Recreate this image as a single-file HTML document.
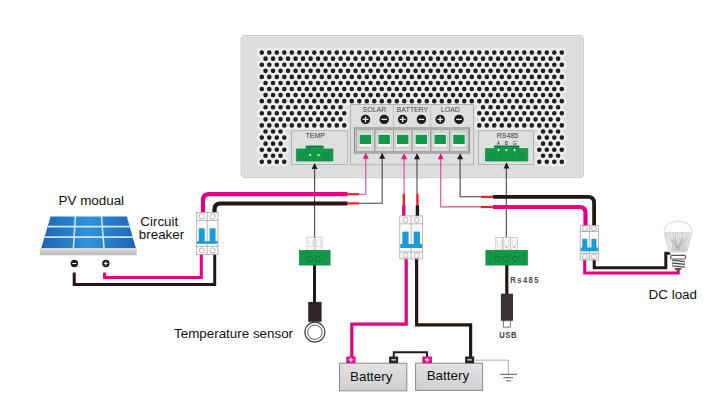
<!DOCTYPE html>
<html><head><meta charset="utf-8"><style>
html,body{margin:0;padding:0;background:#fff;width:725px;height:416px;overflow:hidden}
svg{display:block;font-family:"Liberation Sans", sans-serif}
</style></head><body>
<svg width="725" height="416" viewBox="0 0 725 416">
<rect x="241.2" y="35.5" width="342.09999999999997" height="142.2" rx="3.5" fill="#dcdddd" stroke="#c6c7c7" stroke-width="1"/>
<rect x="242.2" y="36.5" width="340.09999999999997" height="140.2" rx="2.5" fill="none" stroke="#e4e5e5" stroke-width="1"/>
<path d="M245.89999999999998 39.0V174.2M577.5 39.0V174.2" stroke="#e2e3e3" stroke-width="1.3"/>
<path d="M256.8 52.6a5.0 5.0 0 1 0 10.0 0a5.0 5.0 0 1 0 -10.0 0M264.3 52.6a5.0 5.0 0 1 0 10.0 0a5.0 5.0 0 1 0 -10.0 0M271.8 52.6a5.0 5.0 0 1 0 10.0 0a5.0 5.0 0 1 0 -10.0 0M279.3 52.6a5.0 5.0 0 1 0 10.0 0a5.0 5.0 0 1 0 -10.0 0M286.8 52.6a5.0 5.0 0 1 0 10.0 0a5.0 5.0 0 1 0 -10.0 0M294.3 52.6a5.0 5.0 0 1 0 10.0 0a5.0 5.0 0 1 0 -10.0 0M301.8 52.6a5.0 5.0 0 1 0 10.0 0a5.0 5.0 0 1 0 -10.0 0M309.3 52.6a5.0 5.0 0 1 0 10.0 0a5.0 5.0 0 1 0 -10.0 0M316.8 52.6a5.0 5.0 0 1 0 10.0 0a5.0 5.0 0 1 0 -10.0 0M324.3 52.6a5.0 5.0 0 1 0 10.0 0a5.0 5.0 0 1 0 -10.0 0M331.8 52.6a5.0 5.0 0 1 0 10.0 0a5.0 5.0 0 1 0 -10.0 0M339.3 52.6a5.0 5.0 0 1 0 10.0 0a5.0 5.0 0 1 0 -10.0 0M346.8 52.6a5.0 5.0 0 1 0 10.0 0a5.0 5.0 0 1 0 -10.0 0M354.3 52.6a5.0 5.0 0 1 0 10.0 0a5.0 5.0 0 1 0 -10.0 0M361.8 52.6a5.0 5.0 0 1 0 10.0 0a5.0 5.0 0 1 0 -10.0 0M369.3 52.6a5.0 5.0 0 1 0 10.0 0a5.0 5.0 0 1 0 -10.0 0M376.8 52.6a5.0 5.0 0 1 0 10.0 0a5.0 5.0 0 1 0 -10.0 0M384.3 52.6a5.0 5.0 0 1 0 10.0 0a5.0 5.0 0 1 0 -10.0 0M391.8 52.6a5.0 5.0 0 1 0 10.0 0a5.0 5.0 0 1 0 -10.0 0M399.3 52.6a5.0 5.0 0 1 0 10.0 0a5.0 5.0 0 1 0 -10.0 0M406.8 52.6a5.0 5.0 0 1 0 10.0 0a5.0 5.0 0 1 0 -10.0 0M414.3 52.6a5.0 5.0 0 1 0 10.0 0a5.0 5.0 0 1 0 -10.0 0M421.8 52.6a5.0 5.0 0 1 0 10.0 0a5.0 5.0 0 1 0 -10.0 0M429.3 52.6a5.0 5.0 0 1 0 10.0 0a5.0 5.0 0 1 0 -10.0 0M436.8 52.6a5.0 5.0 0 1 0 10.0 0a5.0 5.0 0 1 0 -10.0 0M444.3 52.6a5.0 5.0 0 1 0 10.0 0a5.0 5.0 0 1 0 -10.0 0M451.8 52.6a5.0 5.0 0 1 0 10.0 0a5.0 5.0 0 1 0 -10.0 0M459.3 52.6a5.0 5.0 0 1 0 10.0 0a5.0 5.0 0 1 0 -10.0 0M466.8 52.6a5.0 5.0 0 1 0 10.0 0a5.0 5.0 0 1 0 -10.0 0M474.3 52.6a5.0 5.0 0 1 0 10.0 0a5.0 5.0 0 1 0 -10.0 0M481.8 52.6a5.0 5.0 0 1 0 10.0 0a5.0 5.0 0 1 0 -10.0 0M489.3 52.6a5.0 5.0 0 1 0 10.0 0a5.0 5.0 0 1 0 -10.0 0M496.8 52.6a5.0 5.0 0 1 0 10.0 0a5.0 5.0 0 1 0 -10.0 0M504.3 52.6a5.0 5.0 0 1 0 10.0 0a5.0 5.0 0 1 0 -10.0 0M511.8 52.6a5.0 5.0 0 1 0 10.0 0a5.0 5.0 0 1 0 -10.0 0M519.3 52.6a5.0 5.0 0 1 0 10.0 0a5.0 5.0 0 1 0 -10.0 0M526.8 52.6a5.0 5.0 0 1 0 10.0 0a5.0 5.0 0 1 0 -10.0 0M534.3 52.6a5.0 5.0 0 1 0 10.0 0a5.0 5.0 0 1 0 -10.0 0M541.8 52.6a5.0 5.0 0 1 0 10.0 0a5.0 5.0 0 1 0 -10.0 0M549.3 52.6a5.0 5.0 0 1 0 10.0 0a5.0 5.0 0 1 0 -10.0 0M556.8 52.6a5.0 5.0 0 1 0 10.0 0a5.0 5.0 0 1 0 -10.0 0M260.55 58.67a5.0 5.0 0 1 0 10.0 0a5.0 5.0 0 1 0 -10.0 0M268.05 58.67a5.0 5.0 0 1 0 10.0 0a5.0 5.0 0 1 0 -10.0 0M275.55 58.67a5.0 5.0 0 1 0 10.0 0a5.0 5.0 0 1 0 -10.0 0M283.05 58.67a5.0 5.0 0 1 0 10.0 0a5.0 5.0 0 1 0 -10.0 0M290.55 58.67a5.0 5.0 0 1 0 10.0 0a5.0 5.0 0 1 0 -10.0 0M298.05 58.67a5.0 5.0 0 1 0 10.0 0a5.0 5.0 0 1 0 -10.0 0M305.55 58.67a5.0 5.0 0 1 0 10.0 0a5.0 5.0 0 1 0 -10.0 0M313.05 58.67a5.0 5.0 0 1 0 10.0 0a5.0 5.0 0 1 0 -10.0 0M320.55 58.67a5.0 5.0 0 1 0 10.0 0a5.0 5.0 0 1 0 -10.0 0M328.05 58.67a5.0 5.0 0 1 0 10.0 0a5.0 5.0 0 1 0 -10.0 0M335.55 58.67a5.0 5.0 0 1 0 10.0 0a5.0 5.0 0 1 0 -10.0 0M343.05 58.67a5.0 5.0 0 1 0 10.0 0a5.0 5.0 0 1 0 -10.0 0M350.55 58.67a5.0 5.0 0 1 0 10.0 0a5.0 5.0 0 1 0 -10.0 0M358.05 58.67a5.0 5.0 0 1 0 10.0 0a5.0 5.0 0 1 0 -10.0 0M365.55 58.67a5.0 5.0 0 1 0 10.0 0a5.0 5.0 0 1 0 -10.0 0M373.05 58.67a5.0 5.0 0 1 0 10.0 0a5.0 5.0 0 1 0 -10.0 0M380.55 58.67a5.0 5.0 0 1 0 10.0 0a5.0 5.0 0 1 0 -10.0 0M388.05 58.67a5.0 5.0 0 1 0 10.0 0a5.0 5.0 0 1 0 -10.0 0M395.55 58.67a5.0 5.0 0 1 0 10.0 0a5.0 5.0 0 1 0 -10.0 0M403.05 58.67a5.0 5.0 0 1 0 10.0 0a5.0 5.0 0 1 0 -10.0 0M410.55 58.67a5.0 5.0 0 1 0 10.0 0a5.0 5.0 0 1 0 -10.0 0M418.05 58.67a5.0 5.0 0 1 0 10.0 0a5.0 5.0 0 1 0 -10.0 0M425.55 58.67a5.0 5.0 0 1 0 10.0 0a5.0 5.0 0 1 0 -10.0 0M433.05 58.67a5.0 5.0 0 1 0 10.0 0a5.0 5.0 0 1 0 -10.0 0M440.55 58.67a5.0 5.0 0 1 0 10.0 0a5.0 5.0 0 1 0 -10.0 0M448.05 58.67a5.0 5.0 0 1 0 10.0 0a5.0 5.0 0 1 0 -10.0 0M455.55 58.67a5.0 5.0 0 1 0 10.0 0a5.0 5.0 0 1 0 -10.0 0M463.05 58.67a5.0 5.0 0 1 0 10.0 0a5.0 5.0 0 1 0 -10.0 0M470.55 58.67a5.0 5.0 0 1 0 10.0 0a5.0 5.0 0 1 0 -10.0 0M478.05 58.67a5.0 5.0 0 1 0 10.0 0a5.0 5.0 0 1 0 -10.0 0M485.55 58.67a5.0 5.0 0 1 0 10.0 0a5.0 5.0 0 1 0 -10.0 0M493.05 58.67a5.0 5.0 0 1 0 10.0 0a5.0 5.0 0 1 0 -10.0 0M500.55 58.67a5.0 5.0 0 1 0 10.0 0a5.0 5.0 0 1 0 -10.0 0M508.05 58.67a5.0 5.0 0 1 0 10.0 0a5.0 5.0 0 1 0 -10.0 0M515.55 58.67a5.0 5.0 0 1 0 10.0 0a5.0 5.0 0 1 0 -10.0 0M523.05 58.67a5.0 5.0 0 1 0 10.0 0a5.0 5.0 0 1 0 -10.0 0M530.55 58.67a5.0 5.0 0 1 0 10.0 0a5.0 5.0 0 1 0 -10.0 0M538.05 58.67a5.0 5.0 0 1 0 10.0 0a5.0 5.0 0 1 0 -10.0 0M545.55 58.67a5.0 5.0 0 1 0 10.0 0a5.0 5.0 0 1 0 -10.0 0M553.05 58.67a5.0 5.0 0 1 0 10.0 0a5.0 5.0 0 1 0 -10.0 0M256.8 64.74a5.0 5.0 0 1 0 10.0 0a5.0 5.0 0 1 0 -10.0 0M264.3 64.74a5.0 5.0 0 1 0 10.0 0a5.0 5.0 0 1 0 -10.0 0M271.8 64.74a5.0 5.0 0 1 0 10.0 0a5.0 5.0 0 1 0 -10.0 0M279.3 64.74a5.0 5.0 0 1 0 10.0 0a5.0 5.0 0 1 0 -10.0 0M286.8 64.74a5.0 5.0 0 1 0 10.0 0a5.0 5.0 0 1 0 -10.0 0M294.3 64.74a5.0 5.0 0 1 0 10.0 0a5.0 5.0 0 1 0 -10.0 0M301.8 64.74a5.0 5.0 0 1 0 10.0 0a5.0 5.0 0 1 0 -10.0 0M309.3 64.74a5.0 5.0 0 1 0 10.0 0a5.0 5.0 0 1 0 -10.0 0M316.8 64.74a5.0 5.0 0 1 0 10.0 0a5.0 5.0 0 1 0 -10.0 0M324.3 64.74a5.0 5.0 0 1 0 10.0 0a5.0 5.0 0 1 0 -10.0 0M331.8 64.74a5.0 5.0 0 1 0 10.0 0a5.0 5.0 0 1 0 -10.0 0M339.3 64.74a5.0 5.0 0 1 0 10.0 0a5.0 5.0 0 1 0 -10.0 0M346.8 64.74a5.0 5.0 0 1 0 10.0 0a5.0 5.0 0 1 0 -10.0 0M354.3 64.74a5.0 5.0 0 1 0 10.0 0a5.0 5.0 0 1 0 -10.0 0M361.8 64.74a5.0 5.0 0 1 0 10.0 0a5.0 5.0 0 1 0 -10.0 0M369.3 64.74a5.0 5.0 0 1 0 10.0 0a5.0 5.0 0 1 0 -10.0 0M376.8 64.74a5.0 5.0 0 1 0 10.0 0a5.0 5.0 0 1 0 -10.0 0M384.3 64.74a5.0 5.0 0 1 0 10.0 0a5.0 5.0 0 1 0 -10.0 0M391.8 64.74a5.0 5.0 0 1 0 10.0 0a5.0 5.0 0 1 0 -10.0 0M399.3 64.74a5.0 5.0 0 1 0 10.0 0a5.0 5.0 0 1 0 -10.0 0M406.8 64.74a5.0 5.0 0 1 0 10.0 0a5.0 5.0 0 1 0 -10.0 0M414.3 64.74a5.0 5.0 0 1 0 10.0 0a5.0 5.0 0 1 0 -10.0 0M421.8 64.74a5.0 5.0 0 1 0 10.0 0a5.0 5.0 0 1 0 -10.0 0M429.3 64.74a5.0 5.0 0 1 0 10.0 0a5.0 5.0 0 1 0 -10.0 0M436.8 64.74a5.0 5.0 0 1 0 10.0 0a5.0 5.0 0 1 0 -10.0 0M444.3 64.74a5.0 5.0 0 1 0 10.0 0a5.0 5.0 0 1 0 -10.0 0M451.8 64.74a5.0 5.0 0 1 0 10.0 0a5.0 5.0 0 1 0 -10.0 0M459.3 64.74a5.0 5.0 0 1 0 10.0 0a5.0 5.0 0 1 0 -10.0 0M466.8 64.74a5.0 5.0 0 1 0 10.0 0a5.0 5.0 0 1 0 -10.0 0M474.3 64.74a5.0 5.0 0 1 0 10.0 0a5.0 5.0 0 1 0 -10.0 0M481.8 64.74a5.0 5.0 0 1 0 10.0 0a5.0 5.0 0 1 0 -10.0 0M489.3 64.74a5.0 5.0 0 1 0 10.0 0a5.0 5.0 0 1 0 -10.0 0M496.8 64.74a5.0 5.0 0 1 0 10.0 0a5.0 5.0 0 1 0 -10.0 0M504.3 64.74a5.0 5.0 0 1 0 10.0 0a5.0 5.0 0 1 0 -10.0 0M511.8 64.74a5.0 5.0 0 1 0 10.0 0a5.0 5.0 0 1 0 -10.0 0M519.3 64.74a5.0 5.0 0 1 0 10.0 0a5.0 5.0 0 1 0 -10.0 0M526.8 64.74a5.0 5.0 0 1 0 10.0 0a5.0 5.0 0 1 0 -10.0 0M534.3 64.74a5.0 5.0 0 1 0 10.0 0a5.0 5.0 0 1 0 -10.0 0M541.8 64.74a5.0 5.0 0 1 0 10.0 0a5.0 5.0 0 1 0 -10.0 0M549.3 64.74a5.0 5.0 0 1 0 10.0 0a5.0 5.0 0 1 0 -10.0 0M556.8 64.74a5.0 5.0 0 1 0 10.0 0a5.0 5.0 0 1 0 -10.0 0M260.55 70.81a5.0 5.0 0 1 0 10.0 0a5.0 5.0 0 1 0 -10.0 0M268.05 70.81a5.0 5.0 0 1 0 10.0 0a5.0 5.0 0 1 0 -10.0 0M275.55 70.81a5.0 5.0 0 1 0 10.0 0a5.0 5.0 0 1 0 -10.0 0M283.05 70.81a5.0 5.0 0 1 0 10.0 0a5.0 5.0 0 1 0 -10.0 0M290.55 70.81a5.0 5.0 0 1 0 10.0 0a5.0 5.0 0 1 0 -10.0 0M298.05 70.81a5.0 5.0 0 1 0 10.0 0a5.0 5.0 0 1 0 -10.0 0M305.55 70.81a5.0 5.0 0 1 0 10.0 0a5.0 5.0 0 1 0 -10.0 0M313.05 70.81a5.0 5.0 0 1 0 10.0 0a5.0 5.0 0 1 0 -10.0 0M320.55 70.81a5.0 5.0 0 1 0 10.0 0a5.0 5.0 0 1 0 -10.0 0M328.05 70.81a5.0 5.0 0 1 0 10.0 0a5.0 5.0 0 1 0 -10.0 0M335.55 70.81a5.0 5.0 0 1 0 10.0 0a5.0 5.0 0 1 0 -10.0 0M343.05 70.81a5.0 5.0 0 1 0 10.0 0a5.0 5.0 0 1 0 -10.0 0M350.55 70.81a5.0 5.0 0 1 0 10.0 0a5.0 5.0 0 1 0 -10.0 0M358.05 70.81a5.0 5.0 0 1 0 10.0 0a5.0 5.0 0 1 0 -10.0 0M365.55 70.81a5.0 5.0 0 1 0 10.0 0a5.0 5.0 0 1 0 -10.0 0M373.05 70.81a5.0 5.0 0 1 0 10.0 0a5.0 5.0 0 1 0 -10.0 0M380.55 70.81a5.0 5.0 0 1 0 10.0 0a5.0 5.0 0 1 0 -10.0 0M388.05 70.81a5.0 5.0 0 1 0 10.0 0a5.0 5.0 0 1 0 -10.0 0M395.55 70.81a5.0 5.0 0 1 0 10.0 0a5.0 5.0 0 1 0 -10.0 0M403.05 70.81a5.0 5.0 0 1 0 10.0 0a5.0 5.0 0 1 0 -10.0 0M410.55 70.81a5.0 5.0 0 1 0 10.0 0a5.0 5.0 0 1 0 -10.0 0M418.05 70.81a5.0 5.0 0 1 0 10.0 0a5.0 5.0 0 1 0 -10.0 0M425.55 70.81a5.0 5.0 0 1 0 10.0 0a5.0 5.0 0 1 0 -10.0 0M433.05 70.81a5.0 5.0 0 1 0 10.0 0a5.0 5.0 0 1 0 -10.0 0M440.55 70.81a5.0 5.0 0 1 0 10.0 0a5.0 5.0 0 1 0 -10.0 0M448.05 70.81a5.0 5.0 0 1 0 10.0 0a5.0 5.0 0 1 0 -10.0 0M455.55 70.81a5.0 5.0 0 1 0 10.0 0a5.0 5.0 0 1 0 -10.0 0M463.05 70.81a5.0 5.0 0 1 0 10.0 0a5.0 5.0 0 1 0 -10.0 0M470.55 70.81a5.0 5.0 0 1 0 10.0 0a5.0 5.0 0 1 0 -10.0 0M478.05 70.81a5.0 5.0 0 1 0 10.0 0a5.0 5.0 0 1 0 -10.0 0M485.55 70.81a5.0 5.0 0 1 0 10.0 0a5.0 5.0 0 1 0 -10.0 0M493.05 70.81a5.0 5.0 0 1 0 10.0 0a5.0 5.0 0 1 0 -10.0 0M500.55 70.81a5.0 5.0 0 1 0 10.0 0a5.0 5.0 0 1 0 -10.0 0M508.05 70.81a5.0 5.0 0 1 0 10.0 0a5.0 5.0 0 1 0 -10.0 0M515.55 70.81a5.0 5.0 0 1 0 10.0 0a5.0 5.0 0 1 0 -10.0 0M523.05 70.81a5.0 5.0 0 1 0 10.0 0a5.0 5.0 0 1 0 -10.0 0M530.55 70.81a5.0 5.0 0 1 0 10.0 0a5.0 5.0 0 1 0 -10.0 0M538.05 70.81a5.0 5.0 0 1 0 10.0 0a5.0 5.0 0 1 0 -10.0 0M545.55 70.81a5.0 5.0 0 1 0 10.0 0a5.0 5.0 0 1 0 -10.0 0M553.05 70.81a5.0 5.0 0 1 0 10.0 0a5.0 5.0 0 1 0 -10.0 0M256.8 76.88a5.0 5.0 0 1 0 10.0 0a5.0 5.0 0 1 0 -10.0 0M264.3 76.88a5.0 5.0 0 1 0 10.0 0a5.0 5.0 0 1 0 -10.0 0M271.8 76.88a5.0 5.0 0 1 0 10.0 0a5.0 5.0 0 1 0 -10.0 0M279.3 76.88a5.0 5.0 0 1 0 10.0 0a5.0 5.0 0 1 0 -10.0 0M286.8 76.88a5.0 5.0 0 1 0 10.0 0a5.0 5.0 0 1 0 -10.0 0M294.3 76.88a5.0 5.0 0 1 0 10.0 0a5.0 5.0 0 1 0 -10.0 0M301.8 76.88a5.0 5.0 0 1 0 10.0 0a5.0 5.0 0 1 0 -10.0 0M309.3 76.88a5.0 5.0 0 1 0 10.0 0a5.0 5.0 0 1 0 -10.0 0M316.8 76.88a5.0 5.0 0 1 0 10.0 0a5.0 5.0 0 1 0 -10.0 0M324.3 76.88a5.0 5.0 0 1 0 10.0 0a5.0 5.0 0 1 0 -10.0 0M331.8 76.88a5.0 5.0 0 1 0 10.0 0a5.0 5.0 0 1 0 -10.0 0M339.3 76.88a5.0 5.0 0 1 0 10.0 0a5.0 5.0 0 1 0 -10.0 0M346.8 76.88a5.0 5.0 0 1 0 10.0 0a5.0 5.0 0 1 0 -10.0 0M354.3 76.88a5.0 5.0 0 1 0 10.0 0a5.0 5.0 0 1 0 -10.0 0M361.8 76.88a5.0 5.0 0 1 0 10.0 0a5.0 5.0 0 1 0 -10.0 0M369.3 76.88a5.0 5.0 0 1 0 10.0 0a5.0 5.0 0 1 0 -10.0 0M376.8 76.88a5.0 5.0 0 1 0 10.0 0a5.0 5.0 0 1 0 -10.0 0M384.3 76.88a5.0 5.0 0 1 0 10.0 0a5.0 5.0 0 1 0 -10.0 0M391.8 76.88a5.0 5.0 0 1 0 10.0 0a5.0 5.0 0 1 0 -10.0 0M399.3 76.88a5.0 5.0 0 1 0 10.0 0a5.0 5.0 0 1 0 -10.0 0M406.8 76.88a5.0 5.0 0 1 0 10.0 0a5.0 5.0 0 1 0 -10.0 0M414.3 76.88a5.0 5.0 0 1 0 10.0 0a5.0 5.0 0 1 0 -10.0 0M421.8 76.88a5.0 5.0 0 1 0 10.0 0a5.0 5.0 0 1 0 -10.0 0M429.3 76.88a5.0 5.0 0 1 0 10.0 0a5.0 5.0 0 1 0 -10.0 0M436.8 76.88a5.0 5.0 0 1 0 10.0 0a5.0 5.0 0 1 0 -10.0 0M444.3 76.88a5.0 5.0 0 1 0 10.0 0a5.0 5.0 0 1 0 -10.0 0M451.8 76.88a5.0 5.0 0 1 0 10.0 0a5.0 5.0 0 1 0 -10.0 0M459.3 76.88a5.0 5.0 0 1 0 10.0 0a5.0 5.0 0 1 0 -10.0 0M466.8 76.88a5.0 5.0 0 1 0 10.0 0a5.0 5.0 0 1 0 -10.0 0M474.3 76.88a5.0 5.0 0 1 0 10.0 0a5.0 5.0 0 1 0 -10.0 0M481.8 76.88a5.0 5.0 0 1 0 10.0 0a5.0 5.0 0 1 0 -10.0 0M489.3 76.88a5.0 5.0 0 1 0 10.0 0a5.0 5.0 0 1 0 -10.0 0M496.8 76.88a5.0 5.0 0 1 0 10.0 0a5.0 5.0 0 1 0 -10.0 0M504.3 76.88a5.0 5.0 0 1 0 10.0 0a5.0 5.0 0 1 0 -10.0 0M511.8 76.88a5.0 5.0 0 1 0 10.0 0a5.0 5.0 0 1 0 -10.0 0M519.3 76.88a5.0 5.0 0 1 0 10.0 0a5.0 5.0 0 1 0 -10.0 0M526.8 76.88a5.0 5.0 0 1 0 10.0 0a5.0 5.0 0 1 0 -10.0 0M534.3 76.88a5.0 5.0 0 1 0 10.0 0a5.0 5.0 0 1 0 -10.0 0M541.8 76.88a5.0 5.0 0 1 0 10.0 0a5.0 5.0 0 1 0 -10.0 0M549.3 76.88a5.0 5.0 0 1 0 10.0 0a5.0 5.0 0 1 0 -10.0 0M556.8 76.88a5.0 5.0 0 1 0 10.0 0a5.0 5.0 0 1 0 -10.0 0M260.55 82.95a5.0 5.0 0 1 0 10.0 0a5.0 5.0 0 1 0 -10.0 0M268.05 82.95a5.0 5.0 0 1 0 10.0 0a5.0 5.0 0 1 0 -10.0 0M275.55 82.95a5.0 5.0 0 1 0 10.0 0a5.0 5.0 0 1 0 -10.0 0M283.05 82.95a5.0 5.0 0 1 0 10.0 0a5.0 5.0 0 1 0 -10.0 0M290.55 82.95a5.0 5.0 0 1 0 10.0 0a5.0 5.0 0 1 0 -10.0 0M298.05 82.95a5.0 5.0 0 1 0 10.0 0a5.0 5.0 0 1 0 -10.0 0M305.55 82.95a5.0 5.0 0 1 0 10.0 0a5.0 5.0 0 1 0 -10.0 0M313.05 82.95a5.0 5.0 0 1 0 10.0 0a5.0 5.0 0 1 0 -10.0 0M320.55 82.95a5.0 5.0 0 1 0 10.0 0a5.0 5.0 0 1 0 -10.0 0M328.05 82.95a5.0 5.0 0 1 0 10.0 0a5.0 5.0 0 1 0 -10.0 0M335.55 82.95a5.0 5.0 0 1 0 10.0 0a5.0 5.0 0 1 0 -10.0 0M343.05 82.95a5.0 5.0 0 1 0 10.0 0a5.0 5.0 0 1 0 -10.0 0M350.55 82.95a5.0 5.0 0 1 0 10.0 0a5.0 5.0 0 1 0 -10.0 0M358.05 82.95a5.0 5.0 0 1 0 10.0 0a5.0 5.0 0 1 0 -10.0 0M365.55 82.95a5.0 5.0 0 1 0 10.0 0a5.0 5.0 0 1 0 -10.0 0M373.05 82.95a5.0 5.0 0 1 0 10.0 0a5.0 5.0 0 1 0 -10.0 0M380.55 82.95a5.0 5.0 0 1 0 10.0 0a5.0 5.0 0 1 0 -10.0 0M388.05 82.95a5.0 5.0 0 1 0 10.0 0a5.0 5.0 0 1 0 -10.0 0M395.55 82.95a5.0 5.0 0 1 0 10.0 0a5.0 5.0 0 1 0 -10.0 0M403.05 82.95a5.0 5.0 0 1 0 10.0 0a5.0 5.0 0 1 0 -10.0 0M410.55 82.95a5.0 5.0 0 1 0 10.0 0a5.0 5.0 0 1 0 -10.0 0M418.05 82.95a5.0 5.0 0 1 0 10.0 0a5.0 5.0 0 1 0 -10.0 0M425.55 82.95a5.0 5.0 0 1 0 10.0 0a5.0 5.0 0 1 0 -10.0 0M433.05 82.95a5.0 5.0 0 1 0 10.0 0a5.0 5.0 0 1 0 -10.0 0M440.55 82.95a5.0 5.0 0 1 0 10.0 0a5.0 5.0 0 1 0 -10.0 0M448.05 82.95a5.0 5.0 0 1 0 10.0 0a5.0 5.0 0 1 0 -10.0 0M455.55 82.95a5.0 5.0 0 1 0 10.0 0a5.0 5.0 0 1 0 -10.0 0M463.05 82.95a5.0 5.0 0 1 0 10.0 0a5.0 5.0 0 1 0 -10.0 0M470.55 82.95a5.0 5.0 0 1 0 10.0 0a5.0 5.0 0 1 0 -10.0 0M478.05 82.95a5.0 5.0 0 1 0 10.0 0a5.0 5.0 0 1 0 -10.0 0M485.55 82.95a5.0 5.0 0 1 0 10.0 0a5.0 5.0 0 1 0 -10.0 0M493.05 82.95a5.0 5.0 0 1 0 10.0 0a5.0 5.0 0 1 0 -10.0 0M500.55 82.95a5.0 5.0 0 1 0 10.0 0a5.0 5.0 0 1 0 -10.0 0M508.05 82.95a5.0 5.0 0 1 0 10.0 0a5.0 5.0 0 1 0 -10.0 0M515.55 82.95a5.0 5.0 0 1 0 10.0 0a5.0 5.0 0 1 0 -10.0 0M523.05 82.95a5.0 5.0 0 1 0 10.0 0a5.0 5.0 0 1 0 -10.0 0M530.55 82.95a5.0 5.0 0 1 0 10.0 0a5.0 5.0 0 1 0 -10.0 0M538.05 82.95a5.0 5.0 0 1 0 10.0 0a5.0 5.0 0 1 0 -10.0 0M545.55 82.95a5.0 5.0 0 1 0 10.0 0a5.0 5.0 0 1 0 -10.0 0M553.05 82.95a5.0 5.0 0 1 0 10.0 0a5.0 5.0 0 1 0 -10.0 0M256.8 89.02a5.0 5.0 0 1 0 10.0 0a5.0 5.0 0 1 0 -10.0 0M264.3 89.02a5.0 5.0 0 1 0 10.0 0a5.0 5.0 0 1 0 -10.0 0M271.8 89.02a5.0 5.0 0 1 0 10.0 0a5.0 5.0 0 1 0 -10.0 0M279.3 89.02a5.0 5.0 0 1 0 10.0 0a5.0 5.0 0 1 0 -10.0 0M286.8 89.02a5.0 5.0 0 1 0 10.0 0a5.0 5.0 0 1 0 -10.0 0M294.3 89.02a5.0 5.0 0 1 0 10.0 0a5.0 5.0 0 1 0 -10.0 0M301.8 89.02a5.0 5.0 0 1 0 10.0 0a5.0 5.0 0 1 0 -10.0 0M309.3 89.02a5.0 5.0 0 1 0 10.0 0a5.0 5.0 0 1 0 -10.0 0M316.8 89.02a5.0 5.0 0 1 0 10.0 0a5.0 5.0 0 1 0 -10.0 0M324.3 89.02a5.0 5.0 0 1 0 10.0 0a5.0 5.0 0 1 0 -10.0 0M331.8 89.02a5.0 5.0 0 1 0 10.0 0a5.0 5.0 0 1 0 -10.0 0M339.3 89.02a5.0 5.0 0 1 0 10.0 0a5.0 5.0 0 1 0 -10.0 0M346.8 89.02a5.0 5.0 0 1 0 10.0 0a5.0 5.0 0 1 0 -10.0 0M354.3 89.02a5.0 5.0 0 1 0 10.0 0a5.0 5.0 0 1 0 -10.0 0M361.8 89.02a5.0 5.0 0 1 0 10.0 0a5.0 5.0 0 1 0 -10.0 0M369.3 89.02a5.0 5.0 0 1 0 10.0 0a5.0 5.0 0 1 0 -10.0 0M376.8 89.02a5.0 5.0 0 1 0 10.0 0a5.0 5.0 0 1 0 -10.0 0M384.3 89.02a5.0 5.0 0 1 0 10.0 0a5.0 5.0 0 1 0 -10.0 0M391.8 89.02a5.0 5.0 0 1 0 10.0 0a5.0 5.0 0 1 0 -10.0 0M399.3 89.02a5.0 5.0 0 1 0 10.0 0a5.0 5.0 0 1 0 -10.0 0M406.8 89.02a5.0 5.0 0 1 0 10.0 0a5.0 5.0 0 1 0 -10.0 0M414.3 89.02a5.0 5.0 0 1 0 10.0 0a5.0 5.0 0 1 0 -10.0 0M421.8 89.02a5.0 5.0 0 1 0 10.0 0a5.0 5.0 0 1 0 -10.0 0M429.3 89.02a5.0 5.0 0 1 0 10.0 0a5.0 5.0 0 1 0 -10.0 0M436.8 89.02a5.0 5.0 0 1 0 10.0 0a5.0 5.0 0 1 0 -10.0 0M444.3 89.02a5.0 5.0 0 1 0 10.0 0a5.0 5.0 0 1 0 -10.0 0M451.8 89.02a5.0 5.0 0 1 0 10.0 0a5.0 5.0 0 1 0 -10.0 0M459.3 89.02a5.0 5.0 0 1 0 10.0 0a5.0 5.0 0 1 0 -10.0 0M466.8 89.02a5.0 5.0 0 1 0 10.0 0a5.0 5.0 0 1 0 -10.0 0M474.3 89.02a5.0 5.0 0 1 0 10.0 0a5.0 5.0 0 1 0 -10.0 0M481.8 89.02a5.0 5.0 0 1 0 10.0 0a5.0 5.0 0 1 0 -10.0 0M489.3 89.02a5.0 5.0 0 1 0 10.0 0a5.0 5.0 0 1 0 -10.0 0M496.8 89.02a5.0 5.0 0 1 0 10.0 0a5.0 5.0 0 1 0 -10.0 0M504.3 89.02a5.0 5.0 0 1 0 10.0 0a5.0 5.0 0 1 0 -10.0 0M511.8 89.02a5.0 5.0 0 1 0 10.0 0a5.0 5.0 0 1 0 -10.0 0M519.3 89.02a5.0 5.0 0 1 0 10.0 0a5.0 5.0 0 1 0 -10.0 0M526.8 89.02a5.0 5.0 0 1 0 10.0 0a5.0 5.0 0 1 0 -10.0 0M534.3 89.02a5.0 5.0 0 1 0 10.0 0a5.0 5.0 0 1 0 -10.0 0M541.8 89.02a5.0 5.0 0 1 0 10.0 0a5.0 5.0 0 1 0 -10.0 0M549.3 89.02a5.0 5.0 0 1 0 10.0 0a5.0 5.0 0 1 0 -10.0 0M556.8 89.02a5.0 5.0 0 1 0 10.0 0a5.0 5.0 0 1 0 -10.0 0M260.55 95.09a5.0 5.0 0 1 0 10.0 0a5.0 5.0 0 1 0 -10.0 0M268.05 95.09a5.0 5.0 0 1 0 10.0 0a5.0 5.0 0 1 0 -10.0 0M275.55 95.09a5.0 5.0 0 1 0 10.0 0a5.0 5.0 0 1 0 -10.0 0M283.05 95.09a5.0 5.0 0 1 0 10.0 0a5.0 5.0 0 1 0 -10.0 0M290.55 95.09a5.0 5.0 0 1 0 10.0 0a5.0 5.0 0 1 0 -10.0 0M298.05 95.09a5.0 5.0 0 1 0 10.0 0a5.0 5.0 0 1 0 -10.0 0M305.55 95.09a5.0 5.0 0 1 0 10.0 0a5.0 5.0 0 1 0 -10.0 0M313.05 95.09a5.0 5.0 0 1 0 10.0 0a5.0 5.0 0 1 0 -10.0 0M320.55 95.09a5.0 5.0 0 1 0 10.0 0a5.0 5.0 0 1 0 -10.0 0M328.05 95.09a5.0 5.0 0 1 0 10.0 0a5.0 5.0 0 1 0 -10.0 0M335.55 95.09a5.0 5.0 0 1 0 10.0 0a5.0 5.0 0 1 0 -10.0 0M343.05 95.09a5.0 5.0 0 1 0 10.0 0a5.0 5.0 0 1 0 -10.0 0M350.55 95.09a5.0 5.0 0 1 0 10.0 0a5.0 5.0 0 1 0 -10.0 0M358.05 95.09a5.0 5.0 0 1 0 10.0 0a5.0 5.0 0 1 0 -10.0 0M365.55 95.09a5.0 5.0 0 1 0 10.0 0a5.0 5.0 0 1 0 -10.0 0M373.05 95.09a5.0 5.0 0 1 0 10.0 0a5.0 5.0 0 1 0 -10.0 0M380.55 95.09a5.0 5.0 0 1 0 10.0 0a5.0 5.0 0 1 0 -10.0 0M388.05 95.09a5.0 5.0 0 1 0 10.0 0a5.0 5.0 0 1 0 -10.0 0M395.55 95.09a5.0 5.0 0 1 0 10.0 0a5.0 5.0 0 1 0 -10.0 0M403.05 95.09a5.0 5.0 0 1 0 10.0 0a5.0 5.0 0 1 0 -10.0 0M410.55 95.09a5.0 5.0 0 1 0 10.0 0a5.0 5.0 0 1 0 -10.0 0M418.05 95.09a5.0 5.0 0 1 0 10.0 0a5.0 5.0 0 1 0 -10.0 0M425.55 95.09a5.0 5.0 0 1 0 10.0 0a5.0 5.0 0 1 0 -10.0 0M433.05 95.09a5.0 5.0 0 1 0 10.0 0a5.0 5.0 0 1 0 -10.0 0M440.55 95.09a5.0 5.0 0 1 0 10.0 0a5.0 5.0 0 1 0 -10.0 0M448.05 95.09a5.0 5.0 0 1 0 10.0 0a5.0 5.0 0 1 0 -10.0 0M455.55 95.09a5.0 5.0 0 1 0 10.0 0a5.0 5.0 0 1 0 -10.0 0M463.05 95.09a5.0 5.0 0 1 0 10.0 0a5.0 5.0 0 1 0 -10.0 0M470.55 95.09a5.0 5.0 0 1 0 10.0 0a5.0 5.0 0 1 0 -10.0 0M478.05 95.09a5.0 5.0 0 1 0 10.0 0a5.0 5.0 0 1 0 -10.0 0M485.55 95.09a5.0 5.0 0 1 0 10.0 0a5.0 5.0 0 1 0 -10.0 0M493.05 95.09a5.0 5.0 0 1 0 10.0 0a5.0 5.0 0 1 0 -10.0 0M500.55 95.09a5.0 5.0 0 1 0 10.0 0a5.0 5.0 0 1 0 -10.0 0M508.05 95.09a5.0 5.0 0 1 0 10.0 0a5.0 5.0 0 1 0 -10.0 0M515.55 95.09a5.0 5.0 0 1 0 10.0 0a5.0 5.0 0 1 0 -10.0 0M523.05 95.09a5.0 5.0 0 1 0 10.0 0a5.0 5.0 0 1 0 -10.0 0M530.55 95.09a5.0 5.0 0 1 0 10.0 0a5.0 5.0 0 1 0 -10.0 0M538.05 95.09a5.0 5.0 0 1 0 10.0 0a5.0 5.0 0 1 0 -10.0 0M545.55 95.09a5.0 5.0 0 1 0 10.0 0a5.0 5.0 0 1 0 -10.0 0M553.05 95.09a5.0 5.0 0 1 0 10.0 0a5.0 5.0 0 1 0 -10.0 0M256.8 101.16a5.0 5.0 0 1 0 10.0 0a5.0 5.0 0 1 0 -10.0 0M264.3 101.16a5.0 5.0 0 1 0 10.0 0a5.0 5.0 0 1 0 -10.0 0M271.8 101.16a5.0 5.0 0 1 0 10.0 0a5.0 5.0 0 1 0 -10.0 0M279.3 101.16a5.0 5.0 0 1 0 10.0 0a5.0 5.0 0 1 0 -10.0 0M286.8 101.16a5.0 5.0 0 1 0 10.0 0a5.0 5.0 0 1 0 -10.0 0M294.3 101.16a5.0 5.0 0 1 0 10.0 0a5.0 5.0 0 1 0 -10.0 0M301.8 101.16a5.0 5.0 0 1 0 10.0 0a5.0 5.0 0 1 0 -10.0 0M309.3 101.16a5.0 5.0 0 1 0 10.0 0a5.0 5.0 0 1 0 -10.0 0M316.8 101.16a5.0 5.0 0 1 0 10.0 0a5.0 5.0 0 1 0 -10.0 0M324.3 101.16a5.0 5.0 0 1 0 10.0 0a5.0 5.0 0 1 0 -10.0 0M331.8 101.16a5.0 5.0 0 1 0 10.0 0a5.0 5.0 0 1 0 -10.0 0M339.3 101.16a5.0 5.0 0 1 0 10.0 0a5.0 5.0 0 1 0 -10.0 0M346.8 101.16a5.0 5.0 0 1 0 10.0 0a5.0 5.0 0 1 0 -10.0 0M354.3 101.16a5.0 5.0 0 1 0 10.0 0a5.0 5.0 0 1 0 -10.0 0M361.8 101.16a5.0 5.0 0 1 0 10.0 0a5.0 5.0 0 1 0 -10.0 0M369.3 101.16a5.0 5.0 0 1 0 10.0 0a5.0 5.0 0 1 0 -10.0 0M376.8 101.16a5.0 5.0 0 1 0 10.0 0a5.0 5.0 0 1 0 -10.0 0M384.3 101.16a5.0 5.0 0 1 0 10.0 0a5.0 5.0 0 1 0 -10.0 0M391.8 101.16a5.0 5.0 0 1 0 10.0 0a5.0 5.0 0 1 0 -10.0 0M399.3 101.16a5.0 5.0 0 1 0 10.0 0a5.0 5.0 0 1 0 -10.0 0M406.8 101.16a5.0 5.0 0 1 0 10.0 0a5.0 5.0 0 1 0 -10.0 0M414.3 101.16a5.0 5.0 0 1 0 10.0 0a5.0 5.0 0 1 0 -10.0 0M421.8 101.16a5.0 5.0 0 1 0 10.0 0a5.0 5.0 0 1 0 -10.0 0M429.3 101.16a5.0 5.0 0 1 0 10.0 0a5.0 5.0 0 1 0 -10.0 0M436.8 101.16a5.0 5.0 0 1 0 10.0 0a5.0 5.0 0 1 0 -10.0 0M444.3 101.16a5.0 5.0 0 1 0 10.0 0a5.0 5.0 0 1 0 -10.0 0M451.8 101.16a5.0 5.0 0 1 0 10.0 0a5.0 5.0 0 1 0 -10.0 0M459.3 101.16a5.0 5.0 0 1 0 10.0 0a5.0 5.0 0 1 0 -10.0 0M466.8 101.16a5.0 5.0 0 1 0 10.0 0a5.0 5.0 0 1 0 -10.0 0M474.3 101.16a5.0 5.0 0 1 0 10.0 0a5.0 5.0 0 1 0 -10.0 0M481.8 101.16a5.0 5.0 0 1 0 10.0 0a5.0 5.0 0 1 0 -10.0 0M489.3 101.16a5.0 5.0 0 1 0 10.0 0a5.0 5.0 0 1 0 -10.0 0M496.8 101.16a5.0 5.0 0 1 0 10.0 0a5.0 5.0 0 1 0 -10.0 0M504.3 101.16a5.0 5.0 0 1 0 10.0 0a5.0 5.0 0 1 0 -10.0 0M511.8 101.16a5.0 5.0 0 1 0 10.0 0a5.0 5.0 0 1 0 -10.0 0M519.3 101.16a5.0 5.0 0 1 0 10.0 0a5.0 5.0 0 1 0 -10.0 0M526.8 101.16a5.0 5.0 0 1 0 10.0 0a5.0 5.0 0 1 0 -10.0 0M534.3 101.16a5.0 5.0 0 1 0 10.0 0a5.0 5.0 0 1 0 -10.0 0M541.8 101.16a5.0 5.0 0 1 0 10.0 0a5.0 5.0 0 1 0 -10.0 0M549.3 101.16a5.0 5.0 0 1 0 10.0 0a5.0 5.0 0 1 0 -10.0 0M556.8 101.16a5.0 5.0 0 1 0 10.0 0a5.0 5.0 0 1 0 -10.0 0M260.55 107.23a5.0 5.0 0 1 0 10.0 0a5.0 5.0 0 1 0 -10.0 0M268.05 107.23a5.0 5.0 0 1 0 10.0 0a5.0 5.0 0 1 0 -10.0 0M275.55 107.23a5.0 5.0 0 1 0 10.0 0a5.0 5.0 0 1 0 -10.0 0M283.05 107.23a5.0 5.0 0 1 0 10.0 0a5.0 5.0 0 1 0 -10.0 0M290.55 107.23a5.0 5.0 0 1 0 10.0 0a5.0 5.0 0 1 0 -10.0 0M298.05 107.23a5.0 5.0 0 1 0 10.0 0a5.0 5.0 0 1 0 -10.0 0M305.55 107.23a5.0 5.0 0 1 0 10.0 0a5.0 5.0 0 1 0 -10.0 0M313.05 107.23a5.0 5.0 0 1 0 10.0 0a5.0 5.0 0 1 0 -10.0 0M320.55 107.23a5.0 5.0 0 1 0 10.0 0a5.0 5.0 0 1 0 -10.0 0M328.05 107.23a5.0 5.0 0 1 0 10.0 0a5.0 5.0 0 1 0 -10.0 0M335.55 107.23a5.0 5.0 0 1 0 10.0 0a5.0 5.0 0 1 0 -10.0 0M478.05 107.23a5.0 5.0 0 1 0 10.0 0a5.0 5.0 0 1 0 -10.0 0M485.55 107.23a5.0 5.0 0 1 0 10.0 0a5.0 5.0 0 1 0 -10.0 0M493.05 107.23a5.0 5.0 0 1 0 10.0 0a5.0 5.0 0 1 0 -10.0 0M500.55 107.23a5.0 5.0 0 1 0 10.0 0a5.0 5.0 0 1 0 -10.0 0M508.05 107.23a5.0 5.0 0 1 0 10.0 0a5.0 5.0 0 1 0 -10.0 0M515.55 107.23a5.0 5.0 0 1 0 10.0 0a5.0 5.0 0 1 0 -10.0 0M523.05 107.23a5.0 5.0 0 1 0 10.0 0a5.0 5.0 0 1 0 -10.0 0M530.55 107.23a5.0 5.0 0 1 0 10.0 0a5.0 5.0 0 1 0 -10.0 0M538.05 107.23a5.0 5.0 0 1 0 10.0 0a5.0 5.0 0 1 0 -10.0 0M545.55 107.23a5.0 5.0 0 1 0 10.0 0a5.0 5.0 0 1 0 -10.0 0M553.05 107.23a5.0 5.0 0 1 0 10.0 0a5.0 5.0 0 1 0 -10.0 0M256.8 113.3a5.0 5.0 0 1 0 10.0 0a5.0 5.0 0 1 0 -10.0 0M264.3 113.3a5.0 5.0 0 1 0 10.0 0a5.0 5.0 0 1 0 -10.0 0M271.8 113.3a5.0 5.0 0 1 0 10.0 0a5.0 5.0 0 1 0 -10.0 0M279.3 113.3a5.0 5.0 0 1 0 10.0 0a5.0 5.0 0 1 0 -10.0 0M286.8 113.3a5.0 5.0 0 1 0 10.0 0a5.0 5.0 0 1 0 -10.0 0M294.3 113.3a5.0 5.0 0 1 0 10.0 0a5.0 5.0 0 1 0 -10.0 0M301.8 113.3a5.0 5.0 0 1 0 10.0 0a5.0 5.0 0 1 0 -10.0 0M309.3 113.3a5.0 5.0 0 1 0 10.0 0a5.0 5.0 0 1 0 -10.0 0M316.8 113.3a5.0 5.0 0 1 0 10.0 0a5.0 5.0 0 1 0 -10.0 0M324.3 113.3a5.0 5.0 0 1 0 10.0 0a5.0 5.0 0 1 0 -10.0 0M331.8 113.3a5.0 5.0 0 1 0 10.0 0a5.0 5.0 0 1 0 -10.0 0M339.3 113.3a5.0 5.0 0 1 0 10.0 0a5.0 5.0 0 1 0 -10.0 0M474.3 113.3a5.0 5.0 0 1 0 10.0 0a5.0 5.0 0 1 0 -10.0 0M481.8 113.3a5.0 5.0 0 1 0 10.0 0a5.0 5.0 0 1 0 -10.0 0M489.3 113.3a5.0 5.0 0 1 0 10.0 0a5.0 5.0 0 1 0 -10.0 0M496.8 113.3a5.0 5.0 0 1 0 10.0 0a5.0 5.0 0 1 0 -10.0 0M504.3 113.3a5.0 5.0 0 1 0 10.0 0a5.0 5.0 0 1 0 -10.0 0M511.8 113.3a5.0 5.0 0 1 0 10.0 0a5.0 5.0 0 1 0 -10.0 0M519.3 113.3a5.0 5.0 0 1 0 10.0 0a5.0 5.0 0 1 0 -10.0 0M526.8 113.3a5.0 5.0 0 1 0 10.0 0a5.0 5.0 0 1 0 -10.0 0M534.3 113.3a5.0 5.0 0 1 0 10.0 0a5.0 5.0 0 1 0 -10.0 0M541.8 113.3a5.0 5.0 0 1 0 10.0 0a5.0 5.0 0 1 0 -10.0 0M549.3 113.3a5.0 5.0 0 1 0 10.0 0a5.0 5.0 0 1 0 -10.0 0M556.8 113.3a5.0 5.0 0 1 0 10.0 0a5.0 5.0 0 1 0 -10.0 0M260.55 119.37a5.0 5.0 0 1 0 10.0 0a5.0 5.0 0 1 0 -10.0 0M268.05 119.37a5.0 5.0 0 1 0 10.0 0a5.0 5.0 0 1 0 -10.0 0M275.55 119.37a5.0 5.0 0 1 0 10.0 0a5.0 5.0 0 1 0 -10.0 0M283.05 119.37a5.0 5.0 0 1 0 10.0 0a5.0 5.0 0 1 0 -10.0 0M290.55 119.37a5.0 5.0 0 1 0 10.0 0a5.0 5.0 0 1 0 -10.0 0M298.05 119.37a5.0 5.0 0 1 0 10.0 0a5.0 5.0 0 1 0 -10.0 0M305.55 119.37a5.0 5.0 0 1 0 10.0 0a5.0 5.0 0 1 0 -10.0 0M313.05 119.37a5.0 5.0 0 1 0 10.0 0a5.0 5.0 0 1 0 -10.0 0M320.55 119.37a5.0 5.0 0 1 0 10.0 0a5.0 5.0 0 1 0 -10.0 0M328.05 119.37a5.0 5.0 0 1 0 10.0 0a5.0 5.0 0 1 0 -10.0 0M335.55 119.37a5.0 5.0 0 1 0 10.0 0a5.0 5.0 0 1 0 -10.0 0M478.05 119.37a5.0 5.0 0 1 0 10.0 0a5.0 5.0 0 1 0 -10.0 0M485.55 119.37a5.0 5.0 0 1 0 10.0 0a5.0 5.0 0 1 0 -10.0 0M493.05 119.37a5.0 5.0 0 1 0 10.0 0a5.0 5.0 0 1 0 -10.0 0M500.55 119.37a5.0 5.0 0 1 0 10.0 0a5.0 5.0 0 1 0 -10.0 0M508.05 119.37a5.0 5.0 0 1 0 10.0 0a5.0 5.0 0 1 0 -10.0 0M515.55 119.37a5.0 5.0 0 1 0 10.0 0a5.0 5.0 0 1 0 -10.0 0M523.05 119.37a5.0 5.0 0 1 0 10.0 0a5.0 5.0 0 1 0 -10.0 0M530.55 119.37a5.0 5.0 0 1 0 10.0 0a5.0 5.0 0 1 0 -10.0 0M538.05 119.37a5.0 5.0 0 1 0 10.0 0a5.0 5.0 0 1 0 -10.0 0M545.55 119.37a5.0 5.0 0 1 0 10.0 0a5.0 5.0 0 1 0 -10.0 0M553.05 119.37a5.0 5.0 0 1 0 10.0 0a5.0 5.0 0 1 0 -10.0 0M256.8 125.44a5.0 5.0 0 1 0 10.0 0a5.0 5.0 0 1 0 -10.0 0M264.3 125.44a5.0 5.0 0 1 0 10.0 0a5.0 5.0 0 1 0 -10.0 0M271.8 125.44a5.0 5.0 0 1 0 10.0 0a5.0 5.0 0 1 0 -10.0 0M279.3 125.44a5.0 5.0 0 1 0 10.0 0a5.0 5.0 0 1 0 -10.0 0M286.8 125.44a5.0 5.0 0 1 0 10.0 0a5.0 5.0 0 1 0 -10.0 0M294.3 125.44a5.0 5.0 0 1 0 10.0 0a5.0 5.0 0 1 0 -10.0 0M301.8 125.44a5.0 5.0 0 1 0 10.0 0a5.0 5.0 0 1 0 -10.0 0M309.3 125.44a5.0 5.0 0 1 0 10.0 0a5.0 5.0 0 1 0 -10.0 0M316.8 125.44a5.0 5.0 0 1 0 10.0 0a5.0 5.0 0 1 0 -10.0 0M324.3 125.44a5.0 5.0 0 1 0 10.0 0a5.0 5.0 0 1 0 -10.0 0M331.8 125.44a5.0 5.0 0 1 0 10.0 0a5.0 5.0 0 1 0 -10.0 0M339.3 125.44a5.0 5.0 0 1 0 10.0 0a5.0 5.0 0 1 0 -10.0 0M474.3 125.44a5.0 5.0 0 1 0 10.0 0a5.0 5.0 0 1 0 -10.0 0M481.8 125.44a5.0 5.0 0 1 0 10.0 0a5.0 5.0 0 1 0 -10.0 0M489.3 125.44a5.0 5.0 0 1 0 10.0 0a5.0 5.0 0 1 0 -10.0 0M496.8 125.44a5.0 5.0 0 1 0 10.0 0a5.0 5.0 0 1 0 -10.0 0M504.3 125.44a5.0 5.0 0 1 0 10.0 0a5.0 5.0 0 1 0 -10.0 0M511.8 125.44a5.0 5.0 0 1 0 10.0 0a5.0 5.0 0 1 0 -10.0 0M519.3 125.44a5.0 5.0 0 1 0 10.0 0a5.0 5.0 0 1 0 -10.0 0M526.8 125.44a5.0 5.0 0 1 0 10.0 0a5.0 5.0 0 1 0 -10.0 0M534.3 125.44a5.0 5.0 0 1 0 10.0 0a5.0 5.0 0 1 0 -10.0 0M541.8 125.44a5.0 5.0 0 1 0 10.0 0a5.0 5.0 0 1 0 -10.0 0M549.3 125.44a5.0 5.0 0 1 0 10.0 0a5.0 5.0 0 1 0 -10.0 0M556.8 125.44a5.0 5.0 0 1 0 10.0 0a5.0 5.0 0 1 0 -10.0 0M260.55 131.51a5.0 5.0 0 1 0 10.0 0a5.0 5.0 0 1 0 -10.0 0M268.05 131.51a5.0 5.0 0 1 0 10.0 0a5.0 5.0 0 1 0 -10.0 0M275.55 131.51a5.0 5.0 0 1 0 10.0 0a5.0 5.0 0 1 0 -10.0 0M538.05 131.51a5.0 5.0 0 1 0 10.0 0a5.0 5.0 0 1 0 -10.0 0M545.55 131.51a5.0 5.0 0 1 0 10.0 0a5.0 5.0 0 1 0 -10.0 0M553.05 131.51a5.0 5.0 0 1 0 10.0 0a5.0 5.0 0 1 0 -10.0 0M256.8 137.58a5.0 5.0 0 1 0 10.0 0a5.0 5.0 0 1 0 -10.0 0M264.3 137.58a5.0 5.0 0 1 0 10.0 0a5.0 5.0 0 1 0 -10.0 0M271.8 137.58a5.0 5.0 0 1 0 10.0 0a5.0 5.0 0 1 0 -10.0 0M279.3 137.58a5.0 5.0 0 1 0 10.0 0a5.0 5.0 0 1 0 -10.0 0M534.3 137.58a5.0 5.0 0 1 0 10.0 0a5.0 5.0 0 1 0 -10.0 0M541.8 137.58a5.0 5.0 0 1 0 10.0 0a5.0 5.0 0 1 0 -10.0 0M549.3 137.58a5.0 5.0 0 1 0 10.0 0a5.0 5.0 0 1 0 -10.0 0M556.8 137.58a5.0 5.0 0 1 0 10.0 0a5.0 5.0 0 1 0 -10.0 0M260.55 143.65a5.0 5.0 0 1 0 10.0 0a5.0 5.0 0 1 0 -10.0 0M268.05 143.65a5.0 5.0 0 1 0 10.0 0a5.0 5.0 0 1 0 -10.0 0M275.55 143.65a5.0 5.0 0 1 0 10.0 0a5.0 5.0 0 1 0 -10.0 0M538.05 143.65a5.0 5.0 0 1 0 10.0 0a5.0 5.0 0 1 0 -10.0 0M545.55 143.65a5.0 5.0 0 1 0 10.0 0a5.0 5.0 0 1 0 -10.0 0M553.05 143.65a5.0 5.0 0 1 0 10.0 0a5.0 5.0 0 1 0 -10.0 0M256.8 149.72a5.0 5.0 0 1 0 10.0 0a5.0 5.0 0 1 0 -10.0 0M264.3 149.72a5.0 5.0 0 1 0 10.0 0a5.0 5.0 0 1 0 -10.0 0M271.8 149.72a5.0 5.0 0 1 0 10.0 0a5.0 5.0 0 1 0 -10.0 0M279.3 149.72a5.0 5.0 0 1 0 10.0 0a5.0 5.0 0 1 0 -10.0 0M534.3 149.72a5.0 5.0 0 1 0 10.0 0a5.0 5.0 0 1 0 -10.0 0M541.8 149.72a5.0 5.0 0 1 0 10.0 0a5.0 5.0 0 1 0 -10.0 0M549.3 149.72a5.0 5.0 0 1 0 10.0 0a5.0 5.0 0 1 0 -10.0 0M556.8 149.72a5.0 5.0 0 1 0 10.0 0a5.0 5.0 0 1 0 -10.0 0M260.55 155.79a5.0 5.0 0 1 0 10.0 0a5.0 5.0 0 1 0 -10.0 0M268.05 155.79a5.0 5.0 0 1 0 10.0 0a5.0 5.0 0 1 0 -10.0 0M275.55 155.79a5.0 5.0 0 1 0 10.0 0a5.0 5.0 0 1 0 -10.0 0M538.05 155.79a5.0 5.0 0 1 0 10.0 0a5.0 5.0 0 1 0 -10.0 0M545.55 155.79a5.0 5.0 0 1 0 10.0 0a5.0 5.0 0 1 0 -10.0 0M553.05 155.79a5.0 5.0 0 1 0 10.0 0a5.0 5.0 0 1 0 -10.0 0M256.8 161.86a5.0 5.0 0 1 0 10.0 0a5.0 5.0 0 1 0 -10.0 0M264.3 161.86a5.0 5.0 0 1 0 10.0 0a5.0 5.0 0 1 0 -10.0 0M271.8 161.86a5.0 5.0 0 1 0 10.0 0a5.0 5.0 0 1 0 -10.0 0M279.3 161.86a5.0 5.0 0 1 0 10.0 0a5.0 5.0 0 1 0 -10.0 0M534.3 161.86a5.0 5.0 0 1 0 10.0 0a5.0 5.0 0 1 0 -10.0 0M541.8 161.86a5.0 5.0 0 1 0 10.0 0a5.0 5.0 0 1 0 -10.0 0M549.3 161.86a5.0 5.0 0 1 0 10.0 0a5.0 5.0 0 1 0 -10.0 0M556.8 161.86a5.0 5.0 0 1 0 10.0 0a5.0 5.0 0 1 0 -10.0 0" fill="#ededed"/>
<path d="M259.48 52.6a2.32 2.32 0 1 0 4.64 0a2.32 2.32 0 1 0 -4.64 0M266.98 52.6a2.32 2.32 0 1 0 4.64 0a2.32 2.32 0 1 0 -4.64 0M274.48 52.6a2.32 2.32 0 1 0 4.64 0a2.32 2.32 0 1 0 -4.64 0M281.98 52.6a2.32 2.32 0 1 0 4.64 0a2.32 2.32 0 1 0 -4.64 0M289.48 52.6a2.32 2.32 0 1 0 4.64 0a2.32 2.32 0 1 0 -4.64 0M296.98 52.6a2.32 2.32 0 1 0 4.64 0a2.32 2.32 0 1 0 -4.64 0M304.48 52.6a2.32 2.32 0 1 0 4.64 0a2.32 2.32 0 1 0 -4.64 0M311.98 52.6a2.32 2.32 0 1 0 4.64 0a2.32 2.32 0 1 0 -4.64 0M319.48 52.6a2.32 2.32 0 1 0 4.64 0a2.32 2.32 0 1 0 -4.64 0M326.98 52.6a2.32 2.32 0 1 0 4.64 0a2.32 2.32 0 1 0 -4.64 0M334.48 52.6a2.32 2.32 0 1 0 4.64 0a2.32 2.32 0 1 0 -4.64 0M341.98 52.6a2.32 2.32 0 1 0 4.64 0a2.32 2.32 0 1 0 -4.64 0M349.48 52.6a2.32 2.32 0 1 0 4.64 0a2.32 2.32 0 1 0 -4.64 0M356.98 52.6a2.32 2.32 0 1 0 4.64 0a2.32 2.32 0 1 0 -4.64 0M364.48 52.6a2.32 2.32 0 1 0 4.64 0a2.32 2.32 0 1 0 -4.64 0M371.98 52.6a2.32 2.32 0 1 0 4.64 0a2.32 2.32 0 1 0 -4.64 0M379.48 52.6a2.32 2.32 0 1 0 4.64 0a2.32 2.32 0 1 0 -4.64 0M386.98 52.6a2.32 2.32 0 1 0 4.64 0a2.32 2.32 0 1 0 -4.64 0M394.48 52.6a2.32 2.32 0 1 0 4.64 0a2.32 2.32 0 1 0 -4.64 0M401.98 52.6a2.32 2.32 0 1 0 4.64 0a2.32 2.32 0 1 0 -4.64 0M409.48 52.6a2.32 2.32 0 1 0 4.64 0a2.32 2.32 0 1 0 -4.64 0M416.98 52.6a2.32 2.32 0 1 0 4.64 0a2.32 2.32 0 1 0 -4.64 0M424.48 52.6a2.32 2.32 0 1 0 4.64 0a2.32 2.32 0 1 0 -4.64 0M431.98 52.6a2.32 2.32 0 1 0 4.64 0a2.32 2.32 0 1 0 -4.64 0M439.48 52.6a2.32 2.32 0 1 0 4.64 0a2.32 2.32 0 1 0 -4.64 0M446.98 52.6a2.32 2.32 0 1 0 4.64 0a2.32 2.32 0 1 0 -4.64 0M454.48 52.6a2.32 2.32 0 1 0 4.64 0a2.32 2.32 0 1 0 -4.64 0M461.98 52.6a2.32 2.32 0 1 0 4.64 0a2.32 2.32 0 1 0 -4.64 0M469.48 52.6a2.32 2.32 0 1 0 4.64 0a2.32 2.32 0 1 0 -4.64 0M476.98 52.6a2.32 2.32 0 1 0 4.64 0a2.32 2.32 0 1 0 -4.64 0M484.48 52.6a2.32 2.32 0 1 0 4.64 0a2.32 2.32 0 1 0 -4.64 0M491.98 52.6a2.32 2.32 0 1 0 4.64 0a2.32 2.32 0 1 0 -4.64 0M499.48 52.6a2.32 2.32 0 1 0 4.64 0a2.32 2.32 0 1 0 -4.64 0M506.98 52.6a2.32 2.32 0 1 0 4.64 0a2.32 2.32 0 1 0 -4.64 0M514.48 52.6a2.32 2.32 0 1 0 4.64 0a2.32 2.32 0 1 0 -4.64 0M521.98 52.6a2.32 2.32 0 1 0 4.64 0a2.32 2.32 0 1 0 -4.64 0M529.48 52.6a2.32 2.32 0 1 0 4.64 0a2.32 2.32 0 1 0 -4.64 0M536.98 52.6a2.32 2.32 0 1 0 4.64 0a2.32 2.32 0 1 0 -4.64 0M544.48 52.6a2.32 2.32 0 1 0 4.64 0a2.32 2.32 0 1 0 -4.64 0M551.98 52.6a2.32 2.32 0 1 0 4.64 0a2.32 2.32 0 1 0 -4.64 0M559.48 52.6a2.32 2.32 0 1 0 4.64 0a2.32 2.32 0 1 0 -4.64 0M263.23 58.67a2.32 2.32 0 1 0 4.64 0a2.32 2.32 0 1 0 -4.64 0M270.73 58.67a2.32 2.32 0 1 0 4.64 0a2.32 2.32 0 1 0 -4.64 0M278.23 58.67a2.32 2.32 0 1 0 4.64 0a2.32 2.32 0 1 0 -4.64 0M285.73 58.67a2.32 2.32 0 1 0 4.64 0a2.32 2.32 0 1 0 -4.64 0M293.23 58.67a2.32 2.32 0 1 0 4.64 0a2.32 2.32 0 1 0 -4.64 0M300.73 58.67a2.32 2.32 0 1 0 4.64 0a2.32 2.32 0 1 0 -4.64 0M308.23 58.67a2.32 2.32 0 1 0 4.64 0a2.32 2.32 0 1 0 -4.64 0M315.73 58.67a2.32 2.32 0 1 0 4.64 0a2.32 2.32 0 1 0 -4.64 0M323.23 58.67a2.32 2.32 0 1 0 4.64 0a2.32 2.32 0 1 0 -4.64 0M330.73 58.67a2.32 2.32 0 1 0 4.64 0a2.32 2.32 0 1 0 -4.64 0M338.23 58.67a2.32 2.32 0 1 0 4.64 0a2.32 2.32 0 1 0 -4.64 0M345.73 58.67a2.32 2.32 0 1 0 4.64 0a2.32 2.32 0 1 0 -4.64 0M353.23 58.67a2.32 2.32 0 1 0 4.64 0a2.32 2.32 0 1 0 -4.64 0M360.73 58.67a2.32 2.32 0 1 0 4.64 0a2.32 2.32 0 1 0 -4.64 0M368.23 58.67a2.32 2.32 0 1 0 4.64 0a2.32 2.32 0 1 0 -4.64 0M375.73 58.67a2.32 2.32 0 1 0 4.64 0a2.32 2.32 0 1 0 -4.64 0M383.23 58.67a2.32 2.32 0 1 0 4.64 0a2.32 2.32 0 1 0 -4.64 0M390.73 58.67a2.32 2.32 0 1 0 4.64 0a2.32 2.32 0 1 0 -4.64 0M398.23 58.67a2.32 2.32 0 1 0 4.64 0a2.32 2.32 0 1 0 -4.64 0M405.73 58.67a2.32 2.32 0 1 0 4.64 0a2.32 2.32 0 1 0 -4.64 0M413.23 58.67a2.32 2.32 0 1 0 4.64 0a2.32 2.32 0 1 0 -4.64 0M420.73 58.67a2.32 2.32 0 1 0 4.64 0a2.32 2.32 0 1 0 -4.64 0M428.23 58.67a2.32 2.32 0 1 0 4.64 0a2.32 2.32 0 1 0 -4.64 0M435.73 58.67a2.32 2.32 0 1 0 4.64 0a2.32 2.32 0 1 0 -4.64 0M443.23 58.67a2.32 2.32 0 1 0 4.64 0a2.32 2.32 0 1 0 -4.64 0M450.73 58.67a2.32 2.32 0 1 0 4.64 0a2.32 2.32 0 1 0 -4.64 0M458.23 58.67a2.32 2.32 0 1 0 4.64 0a2.32 2.32 0 1 0 -4.64 0M465.73 58.67a2.32 2.32 0 1 0 4.64 0a2.32 2.32 0 1 0 -4.64 0M473.23 58.67a2.32 2.32 0 1 0 4.64 0a2.32 2.32 0 1 0 -4.64 0M480.73 58.67a2.32 2.32 0 1 0 4.64 0a2.32 2.32 0 1 0 -4.64 0M488.23 58.67a2.32 2.32 0 1 0 4.64 0a2.32 2.32 0 1 0 -4.64 0M495.73 58.67a2.32 2.32 0 1 0 4.64 0a2.32 2.32 0 1 0 -4.64 0M503.23 58.67a2.32 2.32 0 1 0 4.64 0a2.32 2.32 0 1 0 -4.64 0M510.73 58.67a2.32 2.32 0 1 0 4.64 0a2.32 2.32 0 1 0 -4.64 0M518.23 58.67a2.32 2.32 0 1 0 4.64 0a2.32 2.32 0 1 0 -4.64 0M525.73 58.67a2.32 2.32 0 1 0 4.64 0a2.32 2.32 0 1 0 -4.64 0M533.23 58.67a2.32 2.32 0 1 0 4.64 0a2.32 2.32 0 1 0 -4.64 0M540.73 58.67a2.32 2.32 0 1 0 4.64 0a2.32 2.32 0 1 0 -4.64 0M548.23 58.67a2.32 2.32 0 1 0 4.64 0a2.32 2.32 0 1 0 -4.64 0M555.73 58.67a2.32 2.32 0 1 0 4.64 0a2.32 2.32 0 1 0 -4.64 0M259.48 64.74a2.32 2.32 0 1 0 4.64 0a2.32 2.32 0 1 0 -4.64 0M266.98 64.74a2.32 2.32 0 1 0 4.64 0a2.32 2.32 0 1 0 -4.64 0M274.48 64.74a2.32 2.32 0 1 0 4.64 0a2.32 2.32 0 1 0 -4.64 0M281.98 64.74a2.32 2.32 0 1 0 4.64 0a2.32 2.32 0 1 0 -4.64 0M289.48 64.74a2.32 2.32 0 1 0 4.64 0a2.32 2.32 0 1 0 -4.64 0M296.98 64.74a2.32 2.32 0 1 0 4.64 0a2.32 2.32 0 1 0 -4.64 0M304.48 64.74a2.32 2.32 0 1 0 4.64 0a2.32 2.32 0 1 0 -4.64 0M311.98 64.74a2.32 2.32 0 1 0 4.64 0a2.32 2.32 0 1 0 -4.64 0M319.48 64.74a2.32 2.32 0 1 0 4.64 0a2.32 2.32 0 1 0 -4.64 0M326.98 64.74a2.32 2.32 0 1 0 4.64 0a2.32 2.32 0 1 0 -4.64 0M334.48 64.74a2.32 2.32 0 1 0 4.64 0a2.32 2.32 0 1 0 -4.64 0M341.98 64.74a2.32 2.32 0 1 0 4.64 0a2.32 2.32 0 1 0 -4.64 0M349.48 64.74a2.32 2.32 0 1 0 4.64 0a2.32 2.32 0 1 0 -4.64 0M356.98 64.74a2.32 2.32 0 1 0 4.64 0a2.32 2.32 0 1 0 -4.64 0M364.48 64.74a2.32 2.32 0 1 0 4.64 0a2.32 2.32 0 1 0 -4.64 0M371.98 64.74a2.32 2.32 0 1 0 4.64 0a2.32 2.32 0 1 0 -4.64 0M379.48 64.74a2.32 2.32 0 1 0 4.64 0a2.32 2.32 0 1 0 -4.64 0M386.98 64.74a2.32 2.32 0 1 0 4.64 0a2.32 2.32 0 1 0 -4.64 0M394.48 64.74a2.32 2.32 0 1 0 4.64 0a2.32 2.32 0 1 0 -4.64 0M401.98 64.74a2.32 2.32 0 1 0 4.64 0a2.32 2.32 0 1 0 -4.64 0M409.48 64.74a2.32 2.32 0 1 0 4.64 0a2.32 2.32 0 1 0 -4.64 0M416.98 64.74a2.32 2.32 0 1 0 4.64 0a2.32 2.32 0 1 0 -4.64 0M424.48 64.74a2.32 2.32 0 1 0 4.64 0a2.32 2.32 0 1 0 -4.64 0M431.98 64.74a2.32 2.32 0 1 0 4.64 0a2.32 2.32 0 1 0 -4.64 0M439.48 64.74a2.32 2.32 0 1 0 4.64 0a2.32 2.32 0 1 0 -4.64 0M446.98 64.74a2.32 2.32 0 1 0 4.64 0a2.32 2.32 0 1 0 -4.64 0M454.48 64.74a2.32 2.32 0 1 0 4.64 0a2.32 2.32 0 1 0 -4.64 0M461.98 64.74a2.32 2.32 0 1 0 4.64 0a2.32 2.32 0 1 0 -4.64 0M469.48 64.74a2.32 2.32 0 1 0 4.64 0a2.32 2.32 0 1 0 -4.64 0M476.98 64.74a2.32 2.32 0 1 0 4.64 0a2.32 2.32 0 1 0 -4.64 0M484.48 64.74a2.32 2.32 0 1 0 4.64 0a2.32 2.32 0 1 0 -4.64 0M491.98 64.74a2.32 2.32 0 1 0 4.64 0a2.32 2.32 0 1 0 -4.64 0M499.48 64.74a2.32 2.32 0 1 0 4.64 0a2.32 2.32 0 1 0 -4.64 0M506.98 64.74a2.32 2.32 0 1 0 4.64 0a2.32 2.32 0 1 0 -4.64 0M514.48 64.74a2.32 2.32 0 1 0 4.64 0a2.32 2.32 0 1 0 -4.64 0M521.98 64.74a2.32 2.32 0 1 0 4.64 0a2.32 2.32 0 1 0 -4.64 0M529.48 64.74a2.32 2.32 0 1 0 4.64 0a2.32 2.32 0 1 0 -4.64 0M536.98 64.74a2.32 2.32 0 1 0 4.64 0a2.32 2.32 0 1 0 -4.64 0M544.48 64.74a2.32 2.32 0 1 0 4.64 0a2.32 2.32 0 1 0 -4.64 0M551.98 64.74a2.32 2.32 0 1 0 4.64 0a2.32 2.32 0 1 0 -4.64 0M559.48 64.74a2.32 2.32 0 1 0 4.64 0a2.32 2.32 0 1 0 -4.64 0M263.23 70.81a2.32 2.32 0 1 0 4.64 0a2.32 2.32 0 1 0 -4.64 0M270.73 70.81a2.32 2.32 0 1 0 4.64 0a2.32 2.32 0 1 0 -4.64 0M278.23 70.81a2.32 2.32 0 1 0 4.64 0a2.32 2.32 0 1 0 -4.64 0M285.73 70.81a2.32 2.32 0 1 0 4.64 0a2.32 2.32 0 1 0 -4.64 0M293.23 70.81a2.32 2.32 0 1 0 4.64 0a2.32 2.32 0 1 0 -4.64 0M300.73 70.81a2.32 2.32 0 1 0 4.64 0a2.32 2.32 0 1 0 -4.64 0M308.23 70.81a2.32 2.32 0 1 0 4.64 0a2.32 2.32 0 1 0 -4.64 0M315.73 70.81a2.32 2.32 0 1 0 4.64 0a2.32 2.32 0 1 0 -4.64 0M323.23 70.81a2.32 2.32 0 1 0 4.64 0a2.32 2.32 0 1 0 -4.64 0M330.73 70.81a2.32 2.32 0 1 0 4.64 0a2.32 2.32 0 1 0 -4.64 0M338.23 70.81a2.32 2.32 0 1 0 4.64 0a2.32 2.32 0 1 0 -4.64 0M345.73 70.81a2.32 2.32 0 1 0 4.64 0a2.32 2.32 0 1 0 -4.64 0M353.23 70.81a2.32 2.32 0 1 0 4.64 0a2.32 2.32 0 1 0 -4.64 0M360.73 70.81a2.32 2.32 0 1 0 4.64 0a2.32 2.32 0 1 0 -4.64 0M368.23 70.81a2.32 2.32 0 1 0 4.64 0a2.32 2.32 0 1 0 -4.64 0M375.73 70.81a2.32 2.32 0 1 0 4.64 0a2.32 2.32 0 1 0 -4.64 0M383.23 70.81a2.32 2.32 0 1 0 4.64 0a2.32 2.32 0 1 0 -4.64 0M390.73 70.81a2.32 2.32 0 1 0 4.64 0a2.32 2.32 0 1 0 -4.64 0M398.23 70.81a2.32 2.32 0 1 0 4.64 0a2.32 2.32 0 1 0 -4.64 0M405.73 70.81a2.32 2.32 0 1 0 4.64 0a2.32 2.32 0 1 0 -4.64 0M413.23 70.81a2.32 2.32 0 1 0 4.64 0a2.32 2.32 0 1 0 -4.64 0M420.73 70.81a2.32 2.32 0 1 0 4.64 0a2.32 2.32 0 1 0 -4.64 0M428.23 70.81a2.32 2.32 0 1 0 4.64 0a2.32 2.32 0 1 0 -4.64 0M435.73 70.81a2.32 2.32 0 1 0 4.64 0a2.32 2.32 0 1 0 -4.64 0M443.23 70.81a2.32 2.32 0 1 0 4.64 0a2.32 2.32 0 1 0 -4.64 0M450.73 70.81a2.32 2.32 0 1 0 4.64 0a2.32 2.32 0 1 0 -4.64 0M458.23 70.81a2.32 2.32 0 1 0 4.64 0a2.32 2.32 0 1 0 -4.64 0M465.73 70.81a2.32 2.32 0 1 0 4.64 0a2.32 2.32 0 1 0 -4.64 0M473.23 70.81a2.32 2.32 0 1 0 4.64 0a2.32 2.32 0 1 0 -4.64 0M480.73 70.81a2.32 2.32 0 1 0 4.64 0a2.32 2.32 0 1 0 -4.64 0M488.23 70.81a2.32 2.32 0 1 0 4.64 0a2.32 2.32 0 1 0 -4.64 0M495.73 70.81a2.32 2.32 0 1 0 4.64 0a2.32 2.32 0 1 0 -4.64 0M503.23 70.81a2.32 2.32 0 1 0 4.64 0a2.32 2.32 0 1 0 -4.64 0M510.73 70.81a2.32 2.32 0 1 0 4.64 0a2.32 2.32 0 1 0 -4.64 0M518.23 70.81a2.32 2.32 0 1 0 4.64 0a2.32 2.32 0 1 0 -4.64 0M525.73 70.81a2.32 2.32 0 1 0 4.64 0a2.32 2.32 0 1 0 -4.64 0M533.23 70.81a2.32 2.32 0 1 0 4.64 0a2.32 2.32 0 1 0 -4.64 0M540.73 70.81a2.32 2.32 0 1 0 4.64 0a2.32 2.32 0 1 0 -4.64 0M548.23 70.81a2.32 2.32 0 1 0 4.64 0a2.32 2.32 0 1 0 -4.64 0M555.73 70.81a2.32 2.32 0 1 0 4.64 0a2.32 2.32 0 1 0 -4.64 0M259.48 76.88a2.32 2.32 0 1 0 4.64 0a2.32 2.32 0 1 0 -4.64 0M266.98 76.88a2.32 2.32 0 1 0 4.64 0a2.32 2.32 0 1 0 -4.64 0M274.48 76.88a2.32 2.32 0 1 0 4.64 0a2.32 2.32 0 1 0 -4.64 0M281.98 76.88a2.32 2.32 0 1 0 4.64 0a2.32 2.32 0 1 0 -4.64 0M289.48 76.88a2.32 2.32 0 1 0 4.64 0a2.32 2.32 0 1 0 -4.64 0M296.98 76.88a2.32 2.32 0 1 0 4.64 0a2.32 2.32 0 1 0 -4.64 0M304.48 76.88a2.32 2.32 0 1 0 4.64 0a2.32 2.32 0 1 0 -4.64 0M311.98 76.88a2.32 2.32 0 1 0 4.64 0a2.32 2.32 0 1 0 -4.64 0M319.48 76.88a2.32 2.32 0 1 0 4.64 0a2.32 2.32 0 1 0 -4.64 0M326.98 76.88a2.32 2.32 0 1 0 4.64 0a2.32 2.32 0 1 0 -4.64 0M334.48 76.88a2.32 2.32 0 1 0 4.64 0a2.32 2.32 0 1 0 -4.64 0M341.98 76.88a2.32 2.32 0 1 0 4.64 0a2.32 2.32 0 1 0 -4.64 0M349.48 76.88a2.32 2.32 0 1 0 4.64 0a2.32 2.32 0 1 0 -4.64 0M356.98 76.88a2.32 2.32 0 1 0 4.64 0a2.32 2.32 0 1 0 -4.64 0M364.48 76.88a2.32 2.32 0 1 0 4.64 0a2.32 2.32 0 1 0 -4.64 0M371.98 76.88a2.32 2.32 0 1 0 4.64 0a2.32 2.32 0 1 0 -4.64 0M379.48 76.88a2.32 2.32 0 1 0 4.64 0a2.32 2.32 0 1 0 -4.64 0M386.98 76.88a2.32 2.32 0 1 0 4.64 0a2.32 2.32 0 1 0 -4.64 0M394.48 76.88a2.32 2.32 0 1 0 4.64 0a2.32 2.32 0 1 0 -4.64 0M401.98 76.88a2.32 2.32 0 1 0 4.64 0a2.32 2.32 0 1 0 -4.64 0M409.48 76.88a2.32 2.32 0 1 0 4.64 0a2.32 2.32 0 1 0 -4.64 0M416.98 76.88a2.32 2.32 0 1 0 4.64 0a2.32 2.32 0 1 0 -4.64 0M424.48 76.88a2.32 2.32 0 1 0 4.64 0a2.32 2.32 0 1 0 -4.64 0M431.98 76.88a2.32 2.32 0 1 0 4.64 0a2.32 2.32 0 1 0 -4.64 0M439.48 76.88a2.32 2.32 0 1 0 4.64 0a2.32 2.32 0 1 0 -4.64 0M446.98 76.88a2.32 2.32 0 1 0 4.64 0a2.32 2.32 0 1 0 -4.64 0M454.48 76.88a2.32 2.32 0 1 0 4.64 0a2.32 2.32 0 1 0 -4.64 0M461.98 76.88a2.32 2.32 0 1 0 4.64 0a2.32 2.32 0 1 0 -4.64 0M469.48 76.88a2.32 2.32 0 1 0 4.64 0a2.32 2.32 0 1 0 -4.64 0M476.98 76.88a2.32 2.32 0 1 0 4.64 0a2.32 2.32 0 1 0 -4.64 0M484.48 76.88a2.32 2.32 0 1 0 4.64 0a2.32 2.32 0 1 0 -4.64 0M491.98 76.88a2.32 2.32 0 1 0 4.64 0a2.32 2.32 0 1 0 -4.64 0M499.48 76.88a2.32 2.32 0 1 0 4.64 0a2.32 2.32 0 1 0 -4.64 0M506.98 76.88a2.32 2.32 0 1 0 4.64 0a2.32 2.32 0 1 0 -4.64 0M514.48 76.88a2.32 2.32 0 1 0 4.64 0a2.32 2.32 0 1 0 -4.64 0M521.98 76.88a2.32 2.32 0 1 0 4.64 0a2.32 2.32 0 1 0 -4.64 0M529.48 76.88a2.32 2.32 0 1 0 4.64 0a2.32 2.32 0 1 0 -4.64 0M536.98 76.88a2.32 2.32 0 1 0 4.64 0a2.32 2.32 0 1 0 -4.64 0M544.48 76.88a2.32 2.32 0 1 0 4.64 0a2.32 2.32 0 1 0 -4.64 0M551.98 76.88a2.32 2.32 0 1 0 4.64 0a2.32 2.32 0 1 0 -4.64 0M559.48 76.88a2.32 2.32 0 1 0 4.64 0a2.32 2.32 0 1 0 -4.64 0M263.23 82.95a2.32 2.32 0 1 0 4.64 0a2.32 2.32 0 1 0 -4.64 0M270.73 82.95a2.32 2.32 0 1 0 4.64 0a2.32 2.32 0 1 0 -4.64 0M278.23 82.95a2.32 2.32 0 1 0 4.64 0a2.32 2.32 0 1 0 -4.64 0M285.73 82.95a2.32 2.32 0 1 0 4.64 0a2.32 2.32 0 1 0 -4.64 0M293.23 82.95a2.32 2.32 0 1 0 4.64 0a2.32 2.32 0 1 0 -4.64 0M300.73 82.95a2.32 2.32 0 1 0 4.64 0a2.32 2.32 0 1 0 -4.64 0M308.23 82.95a2.32 2.32 0 1 0 4.64 0a2.32 2.32 0 1 0 -4.64 0M315.73 82.95a2.32 2.32 0 1 0 4.64 0a2.32 2.32 0 1 0 -4.64 0M323.23 82.95a2.32 2.32 0 1 0 4.64 0a2.32 2.32 0 1 0 -4.64 0M330.73 82.95a2.32 2.32 0 1 0 4.64 0a2.32 2.32 0 1 0 -4.64 0M338.23 82.95a2.32 2.32 0 1 0 4.64 0a2.32 2.32 0 1 0 -4.64 0M345.73 82.95a2.32 2.32 0 1 0 4.64 0a2.32 2.32 0 1 0 -4.64 0M353.23 82.95a2.32 2.32 0 1 0 4.64 0a2.32 2.32 0 1 0 -4.64 0M360.73 82.95a2.32 2.32 0 1 0 4.64 0a2.32 2.32 0 1 0 -4.64 0M368.23 82.95a2.32 2.32 0 1 0 4.64 0a2.32 2.32 0 1 0 -4.64 0M375.73 82.95a2.32 2.32 0 1 0 4.64 0a2.32 2.32 0 1 0 -4.64 0M383.23 82.95a2.32 2.32 0 1 0 4.64 0a2.32 2.32 0 1 0 -4.64 0M390.73 82.95a2.32 2.32 0 1 0 4.64 0a2.32 2.32 0 1 0 -4.64 0M398.23 82.95a2.32 2.32 0 1 0 4.64 0a2.32 2.32 0 1 0 -4.64 0M405.73 82.95a2.32 2.32 0 1 0 4.64 0a2.32 2.32 0 1 0 -4.64 0M413.23 82.95a2.32 2.32 0 1 0 4.64 0a2.32 2.32 0 1 0 -4.64 0M420.73 82.95a2.32 2.32 0 1 0 4.64 0a2.32 2.32 0 1 0 -4.64 0M428.23 82.95a2.32 2.32 0 1 0 4.64 0a2.32 2.32 0 1 0 -4.64 0M435.73 82.95a2.32 2.32 0 1 0 4.64 0a2.32 2.32 0 1 0 -4.64 0M443.23 82.95a2.32 2.32 0 1 0 4.64 0a2.32 2.32 0 1 0 -4.64 0M450.73 82.95a2.32 2.32 0 1 0 4.64 0a2.32 2.32 0 1 0 -4.64 0M458.23 82.95a2.32 2.32 0 1 0 4.64 0a2.32 2.32 0 1 0 -4.64 0M465.73 82.95a2.32 2.32 0 1 0 4.64 0a2.32 2.32 0 1 0 -4.64 0M473.23 82.95a2.32 2.32 0 1 0 4.64 0a2.32 2.32 0 1 0 -4.64 0M480.73 82.95a2.32 2.32 0 1 0 4.64 0a2.32 2.32 0 1 0 -4.64 0M488.23 82.95a2.32 2.32 0 1 0 4.64 0a2.32 2.32 0 1 0 -4.64 0M495.73 82.95a2.32 2.32 0 1 0 4.64 0a2.32 2.32 0 1 0 -4.64 0M503.23 82.95a2.32 2.32 0 1 0 4.64 0a2.32 2.32 0 1 0 -4.64 0M510.73 82.95a2.32 2.32 0 1 0 4.64 0a2.32 2.32 0 1 0 -4.64 0M518.23 82.95a2.32 2.32 0 1 0 4.64 0a2.32 2.32 0 1 0 -4.64 0M525.73 82.95a2.32 2.32 0 1 0 4.64 0a2.32 2.32 0 1 0 -4.64 0M533.23 82.95a2.32 2.32 0 1 0 4.64 0a2.32 2.32 0 1 0 -4.64 0M540.73 82.95a2.32 2.32 0 1 0 4.64 0a2.32 2.32 0 1 0 -4.64 0M548.23 82.95a2.32 2.32 0 1 0 4.64 0a2.32 2.32 0 1 0 -4.64 0M555.73 82.95a2.32 2.32 0 1 0 4.64 0a2.32 2.32 0 1 0 -4.64 0M259.48 89.02a2.32 2.32 0 1 0 4.64 0a2.32 2.32 0 1 0 -4.64 0M266.98 89.02a2.32 2.32 0 1 0 4.64 0a2.32 2.32 0 1 0 -4.64 0M274.48 89.02a2.32 2.32 0 1 0 4.64 0a2.32 2.32 0 1 0 -4.64 0M281.98 89.02a2.32 2.32 0 1 0 4.64 0a2.32 2.32 0 1 0 -4.64 0M289.48 89.02a2.32 2.32 0 1 0 4.64 0a2.32 2.32 0 1 0 -4.64 0M296.98 89.02a2.32 2.32 0 1 0 4.64 0a2.32 2.32 0 1 0 -4.64 0M304.48 89.02a2.32 2.32 0 1 0 4.64 0a2.32 2.32 0 1 0 -4.64 0M311.98 89.02a2.32 2.32 0 1 0 4.64 0a2.32 2.32 0 1 0 -4.64 0M319.48 89.02a2.32 2.32 0 1 0 4.64 0a2.32 2.32 0 1 0 -4.64 0M326.98 89.02a2.32 2.32 0 1 0 4.64 0a2.32 2.32 0 1 0 -4.64 0M334.48 89.02a2.32 2.32 0 1 0 4.64 0a2.32 2.32 0 1 0 -4.64 0M341.98 89.02a2.32 2.32 0 1 0 4.64 0a2.32 2.32 0 1 0 -4.64 0M349.48 89.02a2.32 2.32 0 1 0 4.64 0a2.32 2.32 0 1 0 -4.64 0M356.98 89.02a2.32 2.32 0 1 0 4.64 0a2.32 2.32 0 1 0 -4.64 0M364.48 89.02a2.32 2.32 0 1 0 4.64 0a2.32 2.32 0 1 0 -4.64 0M371.98 89.02a2.32 2.32 0 1 0 4.64 0a2.32 2.32 0 1 0 -4.64 0M379.48 89.02a2.32 2.32 0 1 0 4.64 0a2.32 2.32 0 1 0 -4.64 0M386.98 89.02a2.32 2.32 0 1 0 4.64 0a2.32 2.32 0 1 0 -4.64 0M394.48 89.02a2.32 2.32 0 1 0 4.64 0a2.32 2.32 0 1 0 -4.64 0M401.98 89.02a2.32 2.32 0 1 0 4.64 0a2.32 2.32 0 1 0 -4.64 0M409.48 89.02a2.32 2.32 0 1 0 4.64 0a2.32 2.32 0 1 0 -4.64 0M416.98 89.02a2.32 2.32 0 1 0 4.64 0a2.32 2.32 0 1 0 -4.64 0M424.48 89.02a2.32 2.32 0 1 0 4.64 0a2.32 2.32 0 1 0 -4.64 0M431.98 89.02a2.32 2.32 0 1 0 4.64 0a2.32 2.32 0 1 0 -4.64 0M439.48 89.02a2.32 2.32 0 1 0 4.64 0a2.32 2.32 0 1 0 -4.64 0M446.98 89.02a2.32 2.32 0 1 0 4.64 0a2.32 2.32 0 1 0 -4.64 0M454.48 89.02a2.32 2.32 0 1 0 4.64 0a2.32 2.32 0 1 0 -4.64 0M461.98 89.02a2.32 2.32 0 1 0 4.64 0a2.32 2.32 0 1 0 -4.64 0M469.48 89.02a2.32 2.32 0 1 0 4.64 0a2.32 2.32 0 1 0 -4.64 0M476.98 89.02a2.32 2.32 0 1 0 4.64 0a2.32 2.32 0 1 0 -4.64 0M484.48 89.02a2.32 2.32 0 1 0 4.64 0a2.32 2.32 0 1 0 -4.64 0M491.98 89.02a2.32 2.32 0 1 0 4.64 0a2.32 2.32 0 1 0 -4.64 0M499.48 89.02a2.32 2.32 0 1 0 4.64 0a2.32 2.32 0 1 0 -4.64 0M506.98 89.02a2.32 2.32 0 1 0 4.64 0a2.32 2.32 0 1 0 -4.64 0M514.48 89.02a2.32 2.32 0 1 0 4.64 0a2.32 2.32 0 1 0 -4.64 0M521.98 89.02a2.32 2.32 0 1 0 4.64 0a2.32 2.32 0 1 0 -4.64 0M529.48 89.02a2.32 2.32 0 1 0 4.64 0a2.32 2.32 0 1 0 -4.64 0M536.98 89.02a2.32 2.32 0 1 0 4.64 0a2.32 2.32 0 1 0 -4.64 0M544.48 89.02a2.32 2.32 0 1 0 4.64 0a2.32 2.32 0 1 0 -4.64 0M551.98 89.02a2.32 2.32 0 1 0 4.64 0a2.32 2.32 0 1 0 -4.64 0M559.48 89.02a2.32 2.32 0 1 0 4.64 0a2.32 2.32 0 1 0 -4.64 0M263.23 95.09a2.32 2.32 0 1 0 4.64 0a2.32 2.32 0 1 0 -4.64 0M270.73 95.09a2.32 2.32 0 1 0 4.64 0a2.32 2.32 0 1 0 -4.64 0M278.23 95.09a2.32 2.32 0 1 0 4.64 0a2.32 2.32 0 1 0 -4.64 0M285.73 95.09a2.32 2.32 0 1 0 4.64 0a2.32 2.32 0 1 0 -4.64 0M293.23 95.09a2.32 2.32 0 1 0 4.64 0a2.32 2.32 0 1 0 -4.64 0M300.73 95.09a2.32 2.32 0 1 0 4.64 0a2.32 2.32 0 1 0 -4.64 0M308.23 95.09a2.32 2.32 0 1 0 4.64 0a2.32 2.32 0 1 0 -4.64 0M315.73 95.09a2.32 2.32 0 1 0 4.64 0a2.32 2.32 0 1 0 -4.64 0M323.23 95.09a2.32 2.32 0 1 0 4.64 0a2.32 2.32 0 1 0 -4.64 0M330.73 95.09a2.32 2.32 0 1 0 4.64 0a2.32 2.32 0 1 0 -4.64 0M338.23 95.09a2.32 2.32 0 1 0 4.64 0a2.32 2.32 0 1 0 -4.64 0M345.73 95.09a2.32 2.32 0 1 0 4.64 0a2.32 2.32 0 1 0 -4.64 0M353.23 95.09a2.32 2.32 0 1 0 4.64 0a2.32 2.32 0 1 0 -4.64 0M360.73 95.09a2.32 2.32 0 1 0 4.64 0a2.32 2.32 0 1 0 -4.64 0M368.23 95.09a2.32 2.32 0 1 0 4.64 0a2.32 2.32 0 1 0 -4.64 0M375.73 95.09a2.32 2.32 0 1 0 4.64 0a2.32 2.32 0 1 0 -4.64 0M383.23 95.09a2.32 2.32 0 1 0 4.64 0a2.32 2.32 0 1 0 -4.64 0M390.73 95.09a2.32 2.32 0 1 0 4.64 0a2.32 2.32 0 1 0 -4.64 0M398.23 95.09a2.32 2.32 0 1 0 4.64 0a2.32 2.32 0 1 0 -4.64 0M405.73 95.09a2.32 2.32 0 1 0 4.64 0a2.32 2.32 0 1 0 -4.64 0M413.23 95.09a2.32 2.32 0 1 0 4.64 0a2.32 2.32 0 1 0 -4.64 0M420.73 95.09a2.32 2.32 0 1 0 4.64 0a2.32 2.32 0 1 0 -4.64 0M428.23 95.09a2.32 2.32 0 1 0 4.64 0a2.32 2.32 0 1 0 -4.64 0M435.73 95.09a2.32 2.32 0 1 0 4.64 0a2.32 2.32 0 1 0 -4.64 0M443.23 95.09a2.32 2.32 0 1 0 4.64 0a2.32 2.32 0 1 0 -4.64 0M450.73 95.09a2.32 2.32 0 1 0 4.64 0a2.32 2.32 0 1 0 -4.64 0M458.23 95.09a2.32 2.32 0 1 0 4.64 0a2.32 2.32 0 1 0 -4.64 0M465.73 95.09a2.32 2.32 0 1 0 4.64 0a2.32 2.32 0 1 0 -4.64 0M473.23 95.09a2.32 2.32 0 1 0 4.64 0a2.32 2.32 0 1 0 -4.64 0M480.73 95.09a2.32 2.32 0 1 0 4.64 0a2.32 2.32 0 1 0 -4.64 0M488.23 95.09a2.32 2.32 0 1 0 4.64 0a2.32 2.32 0 1 0 -4.64 0M495.73 95.09a2.32 2.32 0 1 0 4.64 0a2.32 2.32 0 1 0 -4.64 0M503.23 95.09a2.32 2.32 0 1 0 4.64 0a2.32 2.32 0 1 0 -4.64 0M510.73 95.09a2.32 2.32 0 1 0 4.64 0a2.32 2.32 0 1 0 -4.64 0M518.23 95.09a2.32 2.32 0 1 0 4.64 0a2.32 2.32 0 1 0 -4.64 0M525.73 95.09a2.32 2.32 0 1 0 4.64 0a2.32 2.32 0 1 0 -4.64 0M533.23 95.09a2.32 2.32 0 1 0 4.64 0a2.32 2.32 0 1 0 -4.64 0M540.73 95.09a2.32 2.32 0 1 0 4.64 0a2.32 2.32 0 1 0 -4.64 0M548.23 95.09a2.32 2.32 0 1 0 4.64 0a2.32 2.32 0 1 0 -4.64 0M555.73 95.09a2.32 2.32 0 1 0 4.64 0a2.32 2.32 0 1 0 -4.64 0M259.48 101.16a2.32 2.32 0 1 0 4.64 0a2.32 2.32 0 1 0 -4.64 0M266.98 101.16a2.32 2.32 0 1 0 4.64 0a2.32 2.32 0 1 0 -4.64 0M274.48 101.16a2.32 2.32 0 1 0 4.64 0a2.32 2.32 0 1 0 -4.64 0M281.98 101.16a2.32 2.32 0 1 0 4.64 0a2.32 2.32 0 1 0 -4.64 0M289.48 101.16a2.32 2.32 0 1 0 4.64 0a2.32 2.32 0 1 0 -4.64 0M296.98 101.16a2.32 2.32 0 1 0 4.64 0a2.32 2.32 0 1 0 -4.64 0M304.48 101.16a2.32 2.32 0 1 0 4.64 0a2.32 2.32 0 1 0 -4.64 0M311.98 101.16a2.32 2.32 0 1 0 4.64 0a2.32 2.32 0 1 0 -4.64 0M319.48 101.16a2.32 2.32 0 1 0 4.64 0a2.32 2.32 0 1 0 -4.64 0M326.98 101.16a2.32 2.32 0 1 0 4.64 0a2.32 2.32 0 1 0 -4.64 0M334.48 101.16a2.32 2.32 0 1 0 4.64 0a2.32 2.32 0 1 0 -4.64 0M341.98 101.16a2.32 2.32 0 1 0 4.64 0a2.32 2.32 0 1 0 -4.64 0M349.48 101.16a2.32 2.32 0 1 0 4.64 0a2.32 2.32 0 1 0 -4.64 0M356.98 101.16a2.32 2.32 0 1 0 4.64 0a2.32 2.32 0 1 0 -4.64 0M364.48 101.16a2.32 2.32 0 1 0 4.64 0a2.32 2.32 0 1 0 -4.64 0M371.98 101.16a2.32 2.32 0 1 0 4.64 0a2.32 2.32 0 1 0 -4.64 0M379.48 101.16a2.32 2.32 0 1 0 4.64 0a2.32 2.32 0 1 0 -4.64 0M386.98 101.16a2.32 2.32 0 1 0 4.64 0a2.32 2.32 0 1 0 -4.64 0M394.48 101.16a2.32 2.32 0 1 0 4.64 0a2.32 2.32 0 1 0 -4.64 0M401.98 101.16a2.32 2.32 0 1 0 4.64 0a2.32 2.32 0 1 0 -4.64 0M409.48 101.16a2.32 2.32 0 1 0 4.64 0a2.32 2.32 0 1 0 -4.64 0M416.98 101.16a2.32 2.32 0 1 0 4.64 0a2.32 2.32 0 1 0 -4.64 0M424.48 101.16a2.32 2.32 0 1 0 4.64 0a2.32 2.32 0 1 0 -4.64 0M431.98 101.16a2.32 2.32 0 1 0 4.64 0a2.32 2.32 0 1 0 -4.64 0M439.48 101.16a2.32 2.32 0 1 0 4.64 0a2.32 2.32 0 1 0 -4.64 0M446.98 101.16a2.32 2.32 0 1 0 4.64 0a2.32 2.32 0 1 0 -4.64 0M454.48 101.16a2.32 2.32 0 1 0 4.64 0a2.32 2.32 0 1 0 -4.64 0M461.98 101.16a2.32 2.32 0 1 0 4.64 0a2.32 2.32 0 1 0 -4.64 0M469.48 101.16a2.32 2.32 0 1 0 4.64 0a2.32 2.32 0 1 0 -4.64 0M476.98 101.16a2.32 2.32 0 1 0 4.64 0a2.32 2.32 0 1 0 -4.64 0M484.48 101.16a2.32 2.32 0 1 0 4.64 0a2.32 2.32 0 1 0 -4.64 0M491.98 101.16a2.32 2.32 0 1 0 4.64 0a2.32 2.32 0 1 0 -4.64 0M499.48 101.16a2.32 2.32 0 1 0 4.64 0a2.32 2.32 0 1 0 -4.64 0M506.98 101.16a2.32 2.32 0 1 0 4.64 0a2.32 2.32 0 1 0 -4.64 0M514.48 101.16a2.32 2.32 0 1 0 4.64 0a2.32 2.32 0 1 0 -4.64 0M521.98 101.16a2.32 2.32 0 1 0 4.64 0a2.32 2.32 0 1 0 -4.64 0M529.48 101.16a2.32 2.32 0 1 0 4.64 0a2.32 2.32 0 1 0 -4.64 0M536.98 101.16a2.32 2.32 0 1 0 4.64 0a2.32 2.32 0 1 0 -4.64 0M544.48 101.16a2.32 2.32 0 1 0 4.64 0a2.32 2.32 0 1 0 -4.64 0M551.98 101.16a2.32 2.32 0 1 0 4.64 0a2.32 2.32 0 1 0 -4.64 0M559.48 101.16a2.32 2.32 0 1 0 4.64 0a2.32 2.32 0 1 0 -4.64 0M263.23 107.23a2.32 2.32 0 1 0 4.64 0a2.32 2.32 0 1 0 -4.64 0M270.73 107.23a2.32 2.32 0 1 0 4.64 0a2.32 2.32 0 1 0 -4.64 0M278.23 107.23a2.32 2.32 0 1 0 4.64 0a2.32 2.32 0 1 0 -4.64 0M285.73 107.23a2.32 2.32 0 1 0 4.64 0a2.32 2.32 0 1 0 -4.64 0M293.23 107.23a2.32 2.32 0 1 0 4.64 0a2.32 2.32 0 1 0 -4.64 0M300.73 107.23a2.32 2.32 0 1 0 4.64 0a2.32 2.32 0 1 0 -4.64 0M308.23 107.23a2.32 2.32 0 1 0 4.64 0a2.32 2.32 0 1 0 -4.64 0M315.73 107.23a2.32 2.32 0 1 0 4.64 0a2.32 2.32 0 1 0 -4.64 0M323.23 107.23a2.32 2.32 0 1 0 4.64 0a2.32 2.32 0 1 0 -4.64 0M330.73 107.23a2.32 2.32 0 1 0 4.64 0a2.32 2.32 0 1 0 -4.64 0M338.23 107.23a2.32 2.32 0 1 0 4.64 0a2.32 2.32 0 1 0 -4.64 0M480.73 107.23a2.32 2.32 0 1 0 4.64 0a2.32 2.32 0 1 0 -4.64 0M488.23 107.23a2.32 2.32 0 1 0 4.64 0a2.32 2.32 0 1 0 -4.64 0M495.73 107.23a2.32 2.32 0 1 0 4.64 0a2.32 2.32 0 1 0 -4.64 0M503.23 107.23a2.32 2.32 0 1 0 4.64 0a2.32 2.32 0 1 0 -4.64 0M510.73 107.23a2.32 2.32 0 1 0 4.64 0a2.32 2.32 0 1 0 -4.64 0M518.23 107.23a2.32 2.32 0 1 0 4.64 0a2.32 2.32 0 1 0 -4.64 0M525.73 107.23a2.32 2.32 0 1 0 4.64 0a2.32 2.32 0 1 0 -4.64 0M533.23 107.23a2.32 2.32 0 1 0 4.64 0a2.32 2.32 0 1 0 -4.64 0M540.73 107.23a2.32 2.32 0 1 0 4.64 0a2.32 2.32 0 1 0 -4.64 0M548.23 107.23a2.32 2.32 0 1 0 4.64 0a2.32 2.32 0 1 0 -4.64 0M555.73 107.23a2.32 2.32 0 1 0 4.64 0a2.32 2.32 0 1 0 -4.64 0M259.48 113.3a2.32 2.32 0 1 0 4.64 0a2.32 2.32 0 1 0 -4.64 0M266.98 113.3a2.32 2.32 0 1 0 4.64 0a2.32 2.32 0 1 0 -4.64 0M274.48 113.3a2.32 2.32 0 1 0 4.64 0a2.32 2.32 0 1 0 -4.64 0M281.98 113.3a2.32 2.32 0 1 0 4.64 0a2.32 2.32 0 1 0 -4.64 0M289.48 113.3a2.32 2.32 0 1 0 4.64 0a2.32 2.32 0 1 0 -4.64 0M296.98 113.3a2.32 2.32 0 1 0 4.64 0a2.32 2.32 0 1 0 -4.64 0M304.48 113.3a2.32 2.32 0 1 0 4.64 0a2.32 2.32 0 1 0 -4.64 0M311.98 113.3a2.32 2.32 0 1 0 4.64 0a2.32 2.32 0 1 0 -4.64 0M319.48 113.3a2.32 2.32 0 1 0 4.64 0a2.32 2.32 0 1 0 -4.64 0M326.98 113.3a2.32 2.32 0 1 0 4.64 0a2.32 2.32 0 1 0 -4.64 0M334.48 113.3a2.32 2.32 0 1 0 4.64 0a2.32 2.32 0 1 0 -4.64 0M341.98 113.3a2.32 2.32 0 1 0 4.64 0a2.32 2.32 0 1 0 -4.64 0M476.98 113.3a2.32 2.32 0 1 0 4.64 0a2.32 2.32 0 1 0 -4.64 0M484.48 113.3a2.32 2.32 0 1 0 4.64 0a2.32 2.32 0 1 0 -4.64 0M491.98 113.3a2.32 2.32 0 1 0 4.64 0a2.32 2.32 0 1 0 -4.64 0M499.48 113.3a2.32 2.32 0 1 0 4.64 0a2.32 2.32 0 1 0 -4.64 0M506.98 113.3a2.32 2.32 0 1 0 4.64 0a2.32 2.32 0 1 0 -4.64 0M514.48 113.3a2.32 2.32 0 1 0 4.64 0a2.32 2.32 0 1 0 -4.64 0M521.98 113.3a2.32 2.32 0 1 0 4.64 0a2.32 2.32 0 1 0 -4.64 0M529.48 113.3a2.32 2.32 0 1 0 4.64 0a2.32 2.32 0 1 0 -4.64 0M536.98 113.3a2.32 2.32 0 1 0 4.64 0a2.32 2.32 0 1 0 -4.64 0M544.48 113.3a2.32 2.32 0 1 0 4.64 0a2.32 2.32 0 1 0 -4.64 0M551.98 113.3a2.32 2.32 0 1 0 4.64 0a2.32 2.32 0 1 0 -4.64 0M559.48 113.3a2.32 2.32 0 1 0 4.64 0a2.32 2.32 0 1 0 -4.64 0M263.23 119.37a2.32 2.32 0 1 0 4.64 0a2.32 2.32 0 1 0 -4.64 0M270.73 119.37a2.32 2.32 0 1 0 4.64 0a2.32 2.32 0 1 0 -4.64 0M278.23 119.37a2.32 2.32 0 1 0 4.64 0a2.32 2.32 0 1 0 -4.64 0M285.73 119.37a2.32 2.32 0 1 0 4.64 0a2.32 2.32 0 1 0 -4.64 0M293.23 119.37a2.32 2.32 0 1 0 4.64 0a2.32 2.32 0 1 0 -4.64 0M300.73 119.37a2.32 2.32 0 1 0 4.64 0a2.32 2.32 0 1 0 -4.64 0M308.23 119.37a2.32 2.32 0 1 0 4.64 0a2.32 2.32 0 1 0 -4.64 0M315.73 119.37a2.32 2.32 0 1 0 4.64 0a2.32 2.32 0 1 0 -4.64 0M323.23 119.37a2.32 2.32 0 1 0 4.64 0a2.32 2.32 0 1 0 -4.64 0M330.73 119.37a2.32 2.32 0 1 0 4.64 0a2.32 2.32 0 1 0 -4.64 0M338.23 119.37a2.32 2.32 0 1 0 4.64 0a2.32 2.32 0 1 0 -4.64 0M480.73 119.37a2.32 2.32 0 1 0 4.64 0a2.32 2.32 0 1 0 -4.64 0M488.23 119.37a2.32 2.32 0 1 0 4.64 0a2.32 2.32 0 1 0 -4.64 0M495.73 119.37a2.32 2.32 0 1 0 4.64 0a2.32 2.32 0 1 0 -4.64 0M503.23 119.37a2.32 2.32 0 1 0 4.64 0a2.32 2.32 0 1 0 -4.64 0M510.73 119.37a2.32 2.32 0 1 0 4.64 0a2.32 2.32 0 1 0 -4.64 0M518.23 119.37a2.32 2.32 0 1 0 4.64 0a2.32 2.32 0 1 0 -4.64 0M525.73 119.37a2.32 2.32 0 1 0 4.64 0a2.32 2.32 0 1 0 -4.64 0M533.23 119.37a2.32 2.32 0 1 0 4.64 0a2.32 2.32 0 1 0 -4.64 0M540.73 119.37a2.32 2.32 0 1 0 4.64 0a2.32 2.32 0 1 0 -4.64 0M548.23 119.37a2.32 2.32 0 1 0 4.64 0a2.32 2.32 0 1 0 -4.64 0M555.73 119.37a2.32 2.32 0 1 0 4.64 0a2.32 2.32 0 1 0 -4.64 0M259.48 125.44a2.32 2.32 0 1 0 4.64 0a2.32 2.32 0 1 0 -4.64 0M266.98 125.44a2.32 2.32 0 1 0 4.64 0a2.32 2.32 0 1 0 -4.64 0M274.48 125.44a2.32 2.32 0 1 0 4.64 0a2.32 2.32 0 1 0 -4.64 0M281.98 125.44a2.32 2.32 0 1 0 4.64 0a2.32 2.32 0 1 0 -4.64 0M289.48 125.44a2.32 2.32 0 1 0 4.64 0a2.32 2.32 0 1 0 -4.64 0M296.98 125.44a2.32 2.32 0 1 0 4.64 0a2.32 2.32 0 1 0 -4.64 0M304.48 125.44a2.32 2.32 0 1 0 4.64 0a2.32 2.32 0 1 0 -4.64 0M311.98 125.44a2.32 2.32 0 1 0 4.64 0a2.32 2.32 0 1 0 -4.64 0M319.48 125.44a2.32 2.32 0 1 0 4.64 0a2.32 2.32 0 1 0 -4.64 0M326.98 125.44a2.32 2.32 0 1 0 4.64 0a2.32 2.32 0 1 0 -4.64 0M334.48 125.44a2.32 2.32 0 1 0 4.64 0a2.32 2.32 0 1 0 -4.64 0M341.98 125.44a2.32 2.32 0 1 0 4.64 0a2.32 2.32 0 1 0 -4.64 0M476.98 125.44a2.32 2.32 0 1 0 4.64 0a2.32 2.32 0 1 0 -4.64 0M484.48 125.44a2.32 2.32 0 1 0 4.64 0a2.32 2.32 0 1 0 -4.64 0M491.98 125.44a2.32 2.32 0 1 0 4.64 0a2.32 2.32 0 1 0 -4.64 0M499.48 125.44a2.32 2.32 0 1 0 4.64 0a2.32 2.32 0 1 0 -4.64 0M506.98 125.44a2.32 2.32 0 1 0 4.64 0a2.32 2.32 0 1 0 -4.64 0M514.48 125.44a2.32 2.32 0 1 0 4.64 0a2.32 2.32 0 1 0 -4.64 0M521.98 125.44a2.32 2.32 0 1 0 4.64 0a2.32 2.32 0 1 0 -4.64 0M529.48 125.44a2.32 2.32 0 1 0 4.64 0a2.32 2.32 0 1 0 -4.64 0M536.98 125.44a2.32 2.32 0 1 0 4.64 0a2.32 2.32 0 1 0 -4.64 0M544.48 125.44a2.32 2.32 0 1 0 4.64 0a2.32 2.32 0 1 0 -4.64 0M551.98 125.44a2.32 2.32 0 1 0 4.64 0a2.32 2.32 0 1 0 -4.64 0M559.48 125.44a2.32 2.32 0 1 0 4.64 0a2.32 2.32 0 1 0 -4.64 0M263.23 131.51a2.32 2.32 0 1 0 4.64 0a2.32 2.32 0 1 0 -4.64 0M270.73 131.51a2.32 2.32 0 1 0 4.64 0a2.32 2.32 0 1 0 -4.64 0M278.23 131.51a2.32 2.32 0 1 0 4.64 0a2.32 2.32 0 1 0 -4.64 0M540.73 131.51a2.32 2.32 0 1 0 4.64 0a2.32 2.32 0 1 0 -4.64 0M548.23 131.51a2.32 2.32 0 1 0 4.64 0a2.32 2.32 0 1 0 -4.64 0M555.73 131.51a2.32 2.32 0 1 0 4.64 0a2.32 2.32 0 1 0 -4.64 0M259.48 137.58a2.32 2.32 0 1 0 4.64 0a2.32 2.32 0 1 0 -4.64 0M266.98 137.58a2.32 2.32 0 1 0 4.64 0a2.32 2.32 0 1 0 -4.64 0M274.48 137.58a2.32 2.32 0 1 0 4.64 0a2.32 2.32 0 1 0 -4.64 0M281.98 137.58a2.32 2.32 0 1 0 4.64 0a2.32 2.32 0 1 0 -4.64 0M536.98 137.58a2.32 2.32 0 1 0 4.64 0a2.32 2.32 0 1 0 -4.64 0M544.48 137.58a2.32 2.32 0 1 0 4.64 0a2.32 2.32 0 1 0 -4.64 0M551.98 137.58a2.32 2.32 0 1 0 4.64 0a2.32 2.32 0 1 0 -4.64 0M559.48 137.58a2.32 2.32 0 1 0 4.64 0a2.32 2.32 0 1 0 -4.64 0M263.23 143.65a2.32 2.32 0 1 0 4.64 0a2.32 2.32 0 1 0 -4.64 0M270.73 143.65a2.32 2.32 0 1 0 4.64 0a2.32 2.32 0 1 0 -4.64 0M278.23 143.65a2.32 2.32 0 1 0 4.64 0a2.32 2.32 0 1 0 -4.64 0M540.73 143.65a2.32 2.32 0 1 0 4.64 0a2.32 2.32 0 1 0 -4.64 0M548.23 143.65a2.32 2.32 0 1 0 4.64 0a2.32 2.32 0 1 0 -4.64 0M555.73 143.65a2.32 2.32 0 1 0 4.64 0a2.32 2.32 0 1 0 -4.64 0M259.48 149.72a2.32 2.32 0 1 0 4.64 0a2.32 2.32 0 1 0 -4.64 0M266.98 149.72a2.32 2.32 0 1 0 4.64 0a2.32 2.32 0 1 0 -4.64 0M274.48 149.72a2.32 2.32 0 1 0 4.64 0a2.32 2.32 0 1 0 -4.64 0M281.98 149.72a2.32 2.32 0 1 0 4.64 0a2.32 2.32 0 1 0 -4.64 0M536.98 149.72a2.32 2.32 0 1 0 4.64 0a2.32 2.32 0 1 0 -4.64 0M544.48 149.72a2.32 2.32 0 1 0 4.64 0a2.32 2.32 0 1 0 -4.64 0M551.98 149.72a2.32 2.32 0 1 0 4.64 0a2.32 2.32 0 1 0 -4.64 0M559.48 149.72a2.32 2.32 0 1 0 4.64 0a2.32 2.32 0 1 0 -4.64 0M263.23 155.79a2.32 2.32 0 1 0 4.64 0a2.32 2.32 0 1 0 -4.64 0M270.73 155.79a2.32 2.32 0 1 0 4.64 0a2.32 2.32 0 1 0 -4.64 0M278.23 155.79a2.32 2.32 0 1 0 4.64 0a2.32 2.32 0 1 0 -4.64 0M540.73 155.79a2.32 2.32 0 1 0 4.64 0a2.32 2.32 0 1 0 -4.64 0M548.23 155.79a2.32 2.32 0 1 0 4.64 0a2.32 2.32 0 1 0 -4.64 0M555.73 155.79a2.32 2.32 0 1 0 4.64 0a2.32 2.32 0 1 0 -4.64 0M259.48 161.86a2.32 2.32 0 1 0 4.64 0a2.32 2.32 0 1 0 -4.64 0M266.98 161.86a2.32 2.32 0 1 0 4.64 0a2.32 2.32 0 1 0 -4.64 0M274.48 161.86a2.32 2.32 0 1 0 4.64 0a2.32 2.32 0 1 0 -4.64 0M281.98 161.86a2.32 2.32 0 1 0 4.64 0a2.32 2.32 0 1 0 -4.64 0M536.98 161.86a2.32 2.32 0 1 0 4.64 0a2.32 2.32 0 1 0 -4.64 0M544.48 161.86a2.32 2.32 0 1 0 4.64 0a2.32 2.32 0 1 0 -4.64 0M551.98 161.86a2.32 2.32 0 1 0 4.64 0a2.32 2.32 0 1 0 -4.64 0M559.48 161.86a2.32 2.32 0 1 0 4.64 0a2.32 2.32 0 1 0 -4.64 0" fill="#202020"/>
<rect x="291.5" y="130.7" width="55.8" height="33.8" fill="#dedfdf" stroke="#b4b5b5" stroke-width="1"/>
<rect x="350.5" y="104.5" width="123" height="60.2" fill="#dedfdf" stroke="#b4b5b5" stroke-width="1"/>
<rect x="478.5" y="130.7" width="55" height="33.8" fill="#dedfdf" stroke="#b4b5b5" stroke-width="1"/>
<line x1="393.3" y1="104.5" x2="393.3" y2="127" stroke="#c3c4c4" stroke-width="1"/>
<line x1="430.8" y1="104.5" x2="430.8" y2="127" stroke="#c3c4c4" stroke-width="1"/>
<text x="374.4" y="112.4" font-size="7" fill="#4a4a4a" text-anchor="middle" font-weight="normal" >SOLAR</text>
<text x="412.4" y="112.4" font-size="7" fill="#4a4a4a" text-anchor="middle" font-weight="normal" >BATTERY</text>
<text x="450.4" y="112.4" font-size="7" fill="#4a4a4a" text-anchor="middle" font-weight="normal" >LOAD</text>
<text x="315.3" y="137.7" font-size="7" fill="#3c3c3c" text-anchor="middle" font-weight="normal" >TEMP</text>
<text x="507.5" y="137.6" font-size="7" fill="#3c3c3c" text-anchor="middle" font-weight="normal" >RS485</text>
<text x="498.3" y="144.6" font-size="5" fill="#333" text-anchor="middle" font-weight="normal" >A</text>
<text x="506.3" y="144.6" font-size="5" fill="#333" text-anchor="middle" font-weight="normal" >B</text>
<text x="514.8" y="144.6" font-size="5" fill="#333" text-anchor="middle" font-weight="normal" >G</text>
<circle cx="365.5" cy="119.4" r="4.7" fill="#1a1a1a"/>
<rect x="362.6" y="118.75" width="5.8" height="1.3" fill="#e8e8e8"/>
<rect x="364.85" y="116.5" width="1.3" height="5.8" fill="#e8e8e8"/>
<circle cx="384.2" cy="119.4" r="4.7" fill="#1a1a1a"/>
<rect x="381.3" y="118.75" width="5.8" height="1.3" fill="#e8e8e8"/>
<circle cx="402.7" cy="119.4" r="4.7" fill="#1a1a1a"/>
<rect x="399.8" y="118.75" width="5.8" height="1.3" fill="#e8e8e8"/>
<rect x="402.05" y="116.5" width="1.3" height="5.8" fill="#e8e8e8"/>
<circle cx="421.4" cy="119.4" r="4.7" fill="#1a1a1a"/>
<rect x="418.5" y="118.75" width="5.8" height="1.3" fill="#e8e8e8"/>
<circle cx="440.2" cy="119.4" r="4.7" fill="#1a1a1a"/>
<rect x="437.3" y="118.75" width="5.8" height="1.3" fill="#e8e8e8"/>
<rect x="439.55" y="116.5" width="1.3" height="5.8" fill="#e8e8e8"/>
<circle cx="459.0" cy="119.4" r="4.7" fill="#1a1a1a"/>
<rect x="456.1" y="118.75" width="5.8" height="1.3" fill="#e8e8e8"/>
<rect x="354.5" y="128" width="115" height="25" fill="#d2d3d3" stroke="#8e8f8f" stroke-width="1.2"/>
<rect x="356.3" y="129.8" width="18.4" height="21.6" fill="#d8d9d9" stroke="#999a9a" stroke-width="0.8"/>
<rect x="358.4" y="132.3" width="14.2" height="15.4" fill="#ececec" stroke="#bdbebe" stroke-width="0.6"/>
<rect x="359.8" y="134.8" width="11.4" height="9.3" fill="#139a48"/>
<rect x="359.8" y="144.1" width="11.4" height="1.6" fill="#fafafa"/>
<rect x="375" y="129.8" width="18.4" height="21.6" fill="#d8d9d9" stroke="#999a9a" stroke-width="0.8"/>
<rect x="377.1" y="132.3" width="14.2" height="15.4" fill="#ececec" stroke="#bdbebe" stroke-width="0.6"/>
<rect x="378.5" y="134.8" width="11.4" height="9.3" fill="#139a48"/>
<rect x="378.5" y="144.1" width="11.4" height="1.6" fill="#fafafa"/>
<rect x="393.5" y="129.8" width="18.4" height="21.6" fill="#d8d9d9" stroke="#999a9a" stroke-width="0.8"/>
<rect x="395.6" y="132.3" width="14.2" height="15.4" fill="#ececec" stroke="#bdbebe" stroke-width="0.6"/>
<rect x="397" y="134.8" width="11.4" height="9.3" fill="#139a48"/>
<rect x="397" y="144.1" width="11.4" height="1.6" fill="#fafafa"/>
<rect x="412.2" y="129.8" width="18.4" height="21.6" fill="#d8d9d9" stroke="#999a9a" stroke-width="0.8"/>
<rect x="414.3" y="132.3" width="14.2" height="15.4" fill="#ececec" stroke="#bdbebe" stroke-width="0.6"/>
<rect x="415.7" y="134.8" width="11.4" height="9.3" fill="#139a48"/>
<rect x="415.7" y="144.1" width="11.4" height="1.6" fill="#fafafa"/>
<rect x="431" y="129.8" width="18.4" height="21.6" fill="#d8d9d9" stroke="#999a9a" stroke-width="0.8"/>
<rect x="433.1" y="132.3" width="14.2" height="15.4" fill="#ececec" stroke="#bdbebe" stroke-width="0.6"/>
<rect x="434.5" y="134.8" width="11.4" height="9.3" fill="#139a48"/>
<rect x="434.5" y="144.1" width="11.4" height="1.6" fill="#fafafa"/>
<rect x="449.8" y="129.8" width="18.4" height="21.6" fill="#d8d9d9" stroke="#999a9a" stroke-width="0.8"/>
<rect x="451.9" y="132.3" width="14.2" height="15.4" fill="#ececec" stroke="#bdbebe" stroke-width="0.6"/>
<rect x="453.3" y="134.8" width="11.4" height="9.3" fill="#139a48"/>
<rect x="453.3" y="144.1" width="11.4" height="1.6" fill="#fafafa"/>
<path d="M296.4 148.9H306V146H323.3V148.9H332.9V161.1H296.4Z" fill="#139a48" stroke="#0e7f3b" stroke-width="0.6"/>
<path d="M306 149.4V160.6M310.32 149.4V160.6M314.65 149.4V160.6M318.98 149.4V160.6M323.3 149.4V160.6" stroke="#10883f" stroke-width="0.5"/>
<path d="M306 146.4H323.3" stroke="#0b6e31" stroke-width="0.8"/>
<circle cx="310.2" cy="155" r="1.1" fill="#e6f5ea"/>
<circle cx="318.6" cy="155" r="1.1" fill="#e6f5ea"/>
<circle cx="301.2" cy="155.3" r="2.4" fill="none" stroke="#0c7a36" stroke-width="0.6"/>
<circle cx="326.0" cy="155.3" r="2.4" fill="none" stroke="#0c7a36" stroke-width="0.6"/>
<path d="M485.4 148.6H494.4V145.9H519V148.6H527.8V161.1H485.4Z" fill="#139a48" stroke="#0e7f3b" stroke-width="0.6"/>
<path d="M494.4 149.1V160.6M500.55 149.1V160.6M506.7 149.1V160.6M512.85 149.1V160.6M519 149.1V160.6" stroke="#10883f" stroke-width="0.5"/>
<path d="M494.4 146.3H519" stroke="#0b6e31" stroke-width="0.8"/>
<circle cx="498.6" cy="150.1" r="1.1" fill="#e6f5ea"/>
<circle cx="506.4" cy="150.1" r="1.1" fill="#e6f5ea"/>
<circle cx="514.5" cy="150.1" r="1.1" fill="#e6f5ea"/>
<circle cx="490.6" cy="155.15" r="2.4" fill="none" stroke="#0c7a36" stroke-width="0.6"/>
<circle cx="522.4" cy="155.15" r="2.4" fill="none" stroke="#0c7a36" stroke-width="0.6"/>
<path d="M365.8 157V194.3H358" fill="none" stroke="#dc4aa0" stroke-width="1.1"/>
<path d="M382.2 157V203.2H358" fill="none" stroke="#4a4545" stroke-width="1.1"/>
<path d="M404.1 157V194" fill="none" stroke="#dc4aa0" stroke-width="1.1"/>
<path d="M417 157V194" fill="none" stroke="#4a4545" stroke-width="1.1"/>
<path d="M440.7 157V206.9H482" fill="none" stroke="#dc4aa0" stroke-width="1.1"/>
<path d="M460.1 157V196.8H482" fill="none" stroke="#4a4545" stroke-width="1.1"/>
<path d="M314.6 167V237.5" fill="none" stroke="#4a4545" stroke-width="1.1"/>
<path d="M506.3 163V237.6" fill="none" stroke="#4a4545" stroke-width="1.1"/>
<path d="M365.8 152.8L368.8 158.8L362.8 158.8Z" fill="#e2197f"/>
<path d="M382.2 152.8L385.2 158.8L379.2 158.8Z" fill="#1e1a1a"/>
<path d="M404.1 153.2L407.1 159.2L401.1 159.2Z" fill="#e2197f"/>
<path d="M417 153.2L420 159.2L414 159.2Z" fill="#1e1a1a"/>
<path d="M440.7 153.2L443.7 159.2L437.7 159.2Z" fill="#e2197f"/>
<path d="M460.1 153.2L463.1 159.2L457.1 159.2Z" fill="#1e1a1a"/>
<path d="M314.6 163L317.6 169L311.6 169Z" fill="#1e1a1a"/>
<path d="M506.5 162.6L509.5 168.6L503.5 168.6Z" fill="#1e1a1a"/>
<path d="M203 212.5V200.3Q203 194.1 209.2 194.1H347.6" fill="none" stroke="#e5007f" stroke-width="4.2"/>
<path d="M214.5 212.5V209.5Q214.5 203.5 220.5 203.5H347.6" fill="none" stroke="#231815" stroke-width="4.2"/>
<path d="M347 194.2H359" stroke="#e8202a" stroke-width="2.2"/>
<path d="M347 203.4H359" stroke="#e8202a" stroke-width="2.2"/>
<path d="M403.8 193.8V206" stroke="#e8202a" stroke-width="2.4"/>
<path d="M417.4 193.8V206" stroke="#e8202a" stroke-width="2.4"/>
<path d="M403.8 205.5V216.2" stroke="#e5007f" stroke-width="3.4"/>
<path d="M417.4 205.5V216.2" stroke="#231815" stroke-width="3.4"/>
<path d="M481 196.9H493.5" stroke="#e8202a" stroke-width="2.2"/>
<path d="M481 207H493.5" stroke="#e8202a" stroke-width="2.2"/>
<path d="M493 196.9H588Q594.1 196.9 594.1 203V225.6" fill="none" stroke="#231815" stroke-width="3.8"/>
<path d="M493 207H579.4Q585.5 207 585.5 213.1V225.6" fill="none" stroke="#e5007f" stroke-width="4.2"/>
<path d="M104.6 272.5V277.6H201.3V253" fill="none" stroke="#e5007f" stroke-width="3"/>
<path d="M74.2 272.5V284.4H214.7V253" fill="none" stroke="#231815" stroke-width="3"/>
<path d="M406.2 258.5V324.2H351.8V357" fill="none" stroke="#e5007f" stroke-width="3.2"/>
<path d="M416.6 258.5V324.8H470.6V357" fill="none" stroke="#231815" stroke-width="3.2"/>
<path d="M393.8 357V352.3H427V357" fill="none" stroke="#231815" stroke-width="2"/>
<path d="M584.7 259.5V273.1H678.2V269.5" fill="none" stroke="#e5007f" stroke-width="3"/>
<path d="M594.2 259.5V267.8H665.8V253.2H670.5" fill="none" stroke="#231815" stroke-width="3"/>
<path d="M314.5 265V302" stroke="#231815" stroke-width="3"/>
<path d="M506.8 264.5V294" stroke="#231815" stroke-width="3.2"/>
<rect x="196.3" y="212.4" width="21.7" height="42.2" fill="#fbfbfb" stroke="#9a9a9a" stroke-width="0.7"/>
<line x1="207.15" y1="212.4" x2="207.15" y2="254.6" stroke="#9a9a9a" stroke-width="0.7"/>
<line x1="196.3" y1="220.4" x2="218" y2="220.4" stroke="#9a9a9a" stroke-width="0.7"/>
<line x1="196.3" y1="246.4" x2="218" y2="246.4" stroke="#9a9a9a" stroke-width="0.7"/>
<circle cx="201.73" cy="216.4" r="2.6" fill="none" stroke="#8a8a8a" stroke-width="0.6"/>
<circle cx="201.73" cy="250.5" r="2.6" fill="none" stroke="#8a8a8a" stroke-width="0.6"/>
<rect x="198.74" y="228.3" width="5.97" height="14.7" fill="#1a9ad6"/>
<circle cx="212.57" cy="216.4" r="2.6" fill="none" stroke="#8a8a8a" stroke-width="0.6"/>
<circle cx="212.57" cy="250.5" r="2.6" fill="none" stroke="#8a8a8a" stroke-width="0.6"/>
<rect x="209.59" y="228.3" width="5.97" height="14.7" fill="#1a9ad6"/>
<rect x="196.8" y="241.2" width="20.7" height="2.6" fill="#1a9ad6"/>
<rect x="399.8" y="215.9" width="22.7" height="43" fill="#fbfbfb" stroke="#9a9a9a" stroke-width="0.7"/>
<line x1="411.15" y1="215.9" x2="411.15" y2="258.9" stroke="#9a9a9a" stroke-width="0.7"/>
<line x1="399.8" y1="223.8" x2="422.5" y2="223.8" stroke="#9a9a9a" stroke-width="0.7"/>
<line x1="399.8" y1="251.9" x2="422.5" y2="251.9" stroke="#9a9a9a" stroke-width="0.7"/>
<circle cx="405.48" cy="219.85" r="2.6" fill="none" stroke="#8a8a8a" stroke-width="0.6"/>
<circle cx="405.48" cy="255.4" r="2.6" fill="none" stroke="#8a8a8a" stroke-width="0.6"/>
<rect x="402.35" y="231.6" width="6.24" height="14.4" fill="#1a9ad6"/>
<circle cx="416.82" cy="219.85" r="2.6" fill="none" stroke="#8a8a8a" stroke-width="0.6"/>
<circle cx="416.82" cy="255.4" r="2.6" fill="none" stroke="#8a8a8a" stroke-width="0.6"/>
<rect x="413.7" y="231.6" width="6.24" height="14.4" fill="#1a9ad6"/>
<rect x="400.3" y="244" width="21.7" height="4" fill="#1a9ad6"/>
<rect x="580.2" y="225.4" width="18.3" height="34.6" fill="#fbfbfb" stroke="#9a9a9a" stroke-width="0.7"/>
<line x1="589.35" y1="225.4" x2="589.35" y2="260" stroke="#9a9a9a" stroke-width="0.7"/>
<line x1="580.2" y1="231.4" x2="598.5" y2="231.4" stroke="#9a9a9a" stroke-width="0.7"/>
<line x1="580.2" y1="253.3" x2="598.5" y2="253.3" stroke="#9a9a9a" stroke-width="0.7"/>
<circle cx="584.78" cy="228.4" r="2.6" fill="none" stroke="#8a8a8a" stroke-width="0.6"/>
<circle cx="584.78" cy="256.65" r="2.6" fill="none" stroke="#8a8a8a" stroke-width="0.6"/>
<rect x="582.26" y="238.8" width="5.03" height="10.2" fill="#1a9ad6"/>
<circle cx="593.92" cy="228.4" r="2.6" fill="none" stroke="#8a8a8a" stroke-width="0.6"/>
<circle cx="593.92" cy="256.65" r="2.6" fill="none" stroke="#8a8a8a" stroke-width="0.6"/>
<rect x="591.41" y="238.8" width="5.03" height="10.2" fill="#1a9ad6"/>
<rect x="580.7" y="247.5" width="17.3" height="3.8" fill="#1a9ad6"/>
<defs><linearGradient id="pvg" x1="0" y1="0" x2="1" y2="0"><stop offset="0" stop-color="#1d63b4"/><stop offset="0.5" stop-color="#2f95da"/><stop offset="1" stop-color="#1d63b4"/></linearGradient><linearGradient id="frm" x1="0" y1="0" x2="0" y2="1"><stop offset="0" stop-color="#dcdcdc"/><stop offset="1" stop-color="#b9b9b9"/></linearGradient></defs>
<path d="M50.6 216.4H126.8L135.9 248.2H41.2Z" fill="url(#pvg)"/>
<rect x="39.7" y="248.2" width="97.1" height="7" fill="url(#frm)"/>
<line x1="75.4" y1="216.4" x2="73.4" y2="248.2" stroke="#cfe4f4" stroke-width="1.6"/>
<line x1="101.4" y1="216.4" x2="104.0" y2="248.2" stroke="#cfe4f4" stroke-width="1.6"/>
<line x1="47.58" y1="226.6" x2="129.72" y2="226.6" stroke="#cfe4f4" stroke-width="1.8"/>
<line x1="44.45" y1="237.2" x2="132.75" y2="237.2" stroke="#cfe4f4" stroke-width="1.8"/>
<circle cx="74.4" cy="263.5" r="3.7" fill="#202020"/><rect x="72.3" y="263" width="4" height="1" fill="#fff"/>
<circle cx="105.9" cy="263.5" r="3.7" fill="#202020"/><rect x="103.8" y="263" width="4" height="1" fill="#fff"/><rect x="105.3" y="261.5" width="1" height="4" fill="#fff"/>
<rect x="307" y="237.2" width="7" height="13" fill="#fff" stroke="#b8b8b8" stroke-width="0.7"/>
<rect x="315.2" y="237.2" width="6.8" height="13" fill="#fff" stroke="#b8b8b8" stroke-width="0.7"/>
<path d="M308.8 239.5V246.5H312.2V239.5M316.9 239.5V246.5H320.3V239.5" fill="none" stroke="#c4c4c4" stroke-width="0.6"/>
<rect x="299.2" y="250.3" width="30.9" height="14.8" fill="#139a48" stroke="#0e7f3b" stroke-width="0.6"/>
<path d="M302.5 251V264.5M305.5 251V264.5M323.5 251V264.5M326.5 251V264.5" stroke="#10893f" stroke-width="0.5"/>
<circle cx="309.8" cy="259.2" r="2.6" fill="none" stroke="#0b6e31" stroke-width="0.8"/>
<circle cx="317.9" cy="259.2" r="2.6" fill="none" stroke="#0b6e31" stroke-width="0.8"/>
<rect x="308.2" y="301.9" width="13.4" height="19.9" fill="#2e2626"/>
<circle cx="314.9" cy="332.2" r="10" fill="#fff" stroke="#3a3a3a" stroke-width="1.2"/>
<circle cx="314.9" cy="332.2" r="7.2" fill="#fff" stroke="#5a5a5a" stroke-width="1"/>
<rect x="495.8" y="237.6" width="7" height="12.4" fill="#fff" stroke="#b8b8b8" stroke-width="0.7"/>
<path d="M497.5 239.6V246.8H501.1V239.6" fill="none" stroke="#c4c4c4" stroke-width="0.6"/>
<rect x="503.2" y="237.6" width="7" height="12.4" fill="#fff" stroke="#b8b8b8" stroke-width="0.7"/>
<path d="M504.9 239.6V246.8H508.5V239.6" fill="none" stroke="#c4c4c4" stroke-width="0.6"/>
<circle cx="506.7" cy="247" r="0.6" fill="#333"/>
<rect x="510.6" y="237.6" width="7" height="12.4" fill="#fff" stroke="#b8b8b8" stroke-width="0.7"/>
<path d="M512.3 239.6V246.8H515.9V239.6" fill="none" stroke="#c4c4c4" stroke-width="0.6"/>
<circle cx="514.1" cy="247" r="0.6" fill="#333"/>
<rect x="485.9" y="250.3" width="41.6" height="14.8" fill="#139a48" stroke="#0e7f3b" stroke-width="0.6"/>
<path d="M490.8 251V264.5M494.9 251V264.5M519.2 251V264.5M523.2 251V264.5" stroke="#10893f" stroke-width="0.5"/>
<circle cx="497.6" cy="258.7" r="2.6" fill="none" stroke="#0b6e31" stroke-width="0.8"/>
<circle cx="505.5" cy="258.7" r="2.6" fill="none" stroke="#0b6e31" stroke-width="0.8"/>
<circle cx="515.0" cy="258.7" r="2.6" fill="none" stroke="#0b6e31" stroke-width="0.8"/>
<rect x="500.9" y="293.7" width="12.1" height="27.1" fill="#3a3434"/>
<rect x="503.3" y="320.8" width="7" height="6.3" fill="#fff" stroke="#555" stroke-width="0.8"/>
<defs><linearGradient id="bat" x1="0" y1="0" x2="0" y2="1"><stop offset="0" stop-color="#e2e2e2"/><stop offset="1" stop-color="#d0d0d0"/></linearGradient></defs>
<rect x="339.5" y="363.2" width="67.3" height="27.6" fill="url(#bat)" stroke="#8a8a8a" stroke-width="1"/>
<rect x="415.6" y="363.2" width="67" height="27.2" fill="url(#bat)" stroke="#8a8a8a" stroke-width="1"/>
<rect x="346.3" y="356.5" width="9.3" height="6.7" fill="#e0117f"/>
<rect x="348.65" y="359.3" width="4.6" height="1.1" fill="#fff"/>
<rect x="350.4" y="357.6" width="1.1" height="4.6" fill="#fff"/>
<rect x="389.1" y="356.5" width="9.1" height="6.7" fill="#2a2424"/>
<rect x="391.35" y="359.3" width="4.6" height="1.1" fill="#fff"/>
<rect x="422.3" y="356.5" width="9.7" height="6.7" fill="#e0117f"/>
<rect x="424.85" y="359.3" width="4.6" height="1.1" fill="#fff"/>
<rect x="426.6" y="357.6" width="1.1" height="4.6" fill="#fff"/>
<rect x="465.1" y="356.5" width="9.1" height="6.7" fill="#2a2424"/>
<rect x="467.35" y="359.3" width="4.6" height="1.1" fill="#fff"/>
<path d="M474.5 360.2H508.4V374" fill="none" stroke="#9a9a9a" stroke-width="0.8"/>
<path d="M500 374.3H517M503.4 377.7H513.1M506.2 380.9H511" stroke="#555" stroke-width="1"/>
<path d="M669.6 252.8L664.6 234.2C663.8 232.8 663.9 231.6 664.1 230.6C665.2 224.6 671 221.3 678 221.3C685 221.3 690.8 224.6 691.9 230.6C692.1 231.6 692.2 232.8 691.4 234.2L686.6 252.8" fill="#fff" stroke="#c2c2c2" stroke-width="0.7"/><path d="M664.87 233.4a1.25 1.05 0 1 0 2.5 0a1.25 1.05 0 1 0 -2.5 0M667.51 233.4a1.25 1.05 0 1 0 2.5 0a1.25 1.05 0 1 0 -2.5 0M670.15 233.4a1.25 1.05 0 1 0 2.5 0a1.25 1.05 0 1 0 -2.5 0M672.79 233.4a1.25 1.05 0 1 0 2.5 0a1.25 1.05 0 1 0 -2.5 0M675.43 233.4a1.25 1.05 0 1 0 2.5 0a1.25 1.05 0 1 0 -2.5 0M678.07 233.4a1.25 1.05 0 1 0 2.5 0a1.25 1.05 0 1 0 -2.5 0M680.71 233.4a1.25 1.05 0 1 0 2.5 0a1.25 1.05 0 1 0 -2.5 0M683.35 233.4a1.25 1.05 0 1 0 2.5 0a1.25 1.05 0 1 0 -2.5 0M685.99 233.4a1.25 1.05 0 1 0 2.5 0a1.25 1.05 0 1 0 -2.5 0M688.63 233.4a1.25 1.05 0 1 0 2.5 0a1.25 1.05 0 1 0 -2.5 0" fill="none" stroke="#a8a8a8" stroke-width="0.55"/><path d="M665.60 235L671.00 252.2M668.05 235L672.45 252.2M670.50 235L673.90 252.2M672.95 235L675.35 252.2M675.40 235L676.80 252.2M677.85 235L678.25 252.2M680.30 235L679.70 252.2M682.75 235L681.15 252.2M685.20 235L682.60 252.2M687.65 235L684.05 252.2M690.10 235L685.50 252.2M666.80 235.2L673.20 244L671.70 252M669.25 235.2L674.65 244L673.15 252M671.70 235.2L676.10 244L674.60 252M674.15 235.2L677.55 244L676.05 252M676.60 235.2L679.00 244L677.50 252M679.05 235.2L680.45 244L678.95 252M681.50 235.2L681.90 244L680.40 252M683.95 235.2L683.35 244L681.85 252M686.40 235.2L684.80 244L683.30 252M688.85 235.2L686.25 244L684.75 252" fill="none" stroke="#a6a6a6" stroke-width="0.5"/><path d="M672 240L678 250L684 240M674 238L678 248L682 238" fill="none" stroke="#8c8c8c" stroke-width="0.5"/><rect x="670.6" y="255.4" width="15.2" height="3.6" rx="1.8" fill="#fff" stroke="#555" stroke-width="1.1"/><path d="M672.4 260.2L684.6 261.6M672.4 263L684.6 264.4M672.6 265.8L684.4 267.2" stroke="#4a4a4a" stroke-width="1.3"/><path d="M672.4 259.6V267.6M684.6 260V268" stroke="#777" stroke-width="0.6"/><path d="M674.2 268H681.6L680.6 269.9H675.2Z" fill="#555"/>
<text x="58.6" y="205.4" font-size="13.4" fill="#111" text-anchor="start" font-weight="normal" >PV modual</text>
<text x="140.3" y="226.1" font-size="13.4" fill="#111" text-anchor="start" font-weight="normal" >Circuit</text>
<text x="138.8" y="238.7" font-size="13.4" fill="#111" text-anchor="start" font-weight="normal" >breaker</text>
<text x="174" y="337.8" font-size="13.4" fill="#111" text-anchor="start" font-weight="normal" >Temperature sensor</text>
<text x="648.6" y="298.6" font-size="13.4" fill="#111" text-anchor="start" font-weight="normal" >DC load</text>
<text x="350" y="380.6" font-size="13.4" fill="#111" text-anchor="start" font-weight="normal" >Battery</text>
<text x="426.7" y="380.2" font-size="13.4" fill="#111" text-anchor="start" font-weight="normal" >Battery</text>
<text transform="translate(510.2 283) scale(0.88 1)" font-size="8.8" font-weight="bold" fill="#4a4a4a" letter-spacing="1.6">Rs485</text>
<text transform="translate(499.2 338.4) scale(0.8 1)" font-size="9.4" font-weight="bold" fill="#3a3a3a" letter-spacing="0.8">USB</text>
</svg>
</body></html>
